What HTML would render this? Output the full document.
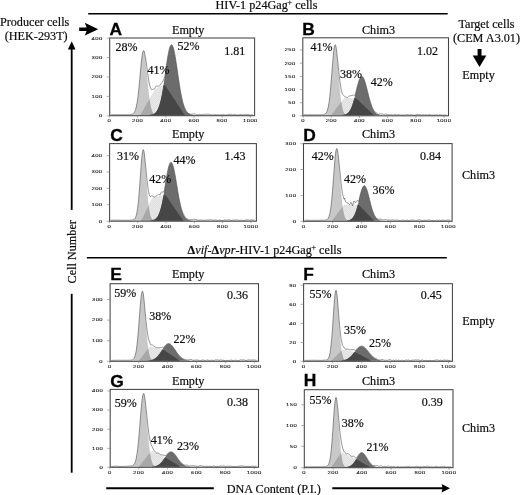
<!DOCTYPE html>
<html><head><meta charset="utf-8"><title>Cell cycle figure</title>
<style>
html,body{margin:0;padding:0;background:#fff;}
body{width:520px;height:495px;overflow:hidden;}
svg{display:block;}
text{fill:#0a0a0a;stroke:#0a0a0a;stroke-width:0.18px;}
text.t{fill:#111;stroke:#111;stroke-width:0.08px;}
text.L{fill:#000;stroke:#000;stroke-width:0.3px;}
</style></head><body>
<svg width="520" height="495" viewBox="0 0 520 495">
<rect width="520" height="495" fill="#fff"/>
<g filter="url(#soft)">
<rect width="520" height="495" fill="#fff"/>
<defs><filter id="soft" x="0" y="0" width="520" height="495" filterUnits="userSpaceOnUse" color-interpolation-filters="sRGB"><feGaussianBlur stdDeviation="0.45"/></filter><pattern id="hatch" width="2" height="2" patternUnits="userSpaceOnUse"><rect width="2" height="2" fill="#e7e7e7"/><path d="M0,2 L2,0" stroke="#dadada" stroke-width="0.5"/></pattern></defs>
<path d="M140.20,115.20 L140.20,114.74 L140.70,114.24 L141.20,113.56 L141.70,112.71 L142.20,111.82 L142.70,110.93 L143.20,110.04 L143.70,109.15 L144.20,108.25 L144.70,107.36 L145.20,106.47 L145.70,105.58 L146.20,104.69 L146.70,103.80 L147.20,102.91 L147.70,102.02 L148.20,101.13 L148.70,100.24 L149.20,99.35 L149.70,98.46 L150.20,97.57 L150.70,96.68 L151.20,95.79 L151.70,94.90 L152.20,94.01 L152.70,93.12 L153.20,92.23 L153.70,91.34 L154.20,90.52 L154.70,89.84 L155.20,89.29 L155.70,88.86 L156.20,88.57 L156.70,88.33 L157.20,88.09 L157.70,87.84 L158.20,87.60 L158.70,87.36 L159.20,87.12 L159.70,86.87 L160.20,86.63 L160.70,86.39 L161.20,86.15 L161.70,85.91 L162.20,85.66 L162.70,85.42 L163.20,85.18 L163.70,84.98 L164.20,84.97 L164.70,85.17 L165.20,85.57 L165.70,86.17 L166.20,86.93 L166.70,87.69 L167.20,88.45 L167.70,89.21 L168.20,89.97 L168.70,90.73 L169.20,91.49 L169.70,92.25 L170.20,93.01 L170.70,93.77 L171.20,94.53 L171.70,95.29 L172.20,96.05 L172.70,96.81 L173.20,97.57 L173.70,98.33 L174.20,99.09 L174.70,99.85 L175.20,100.61 L175.70,101.37 L176.20,102.13 L176.70,102.89 L177.20,103.65 L177.70,104.41 L178.20,105.17 L178.70,105.93 L179.20,106.69 L179.70,107.45 L180.20,108.21 L180.70,108.97 L181.20,109.73 L181.70,110.49 L182.20,111.25 L182.70,112.01 L183.20,112.77 L183.70,113.53 L184.20,114.17 L184.70,114.65 L185.20,114.99 L185.20,115.20 Z" fill="url(#hatch)"/>
<path d="M130.70,115.20 L130.70,114.94 L131.20,114.85 L131.70,114.73 L132.20,114.56 L132.70,114.32 L133.20,113.99 L133.70,113.53 L134.20,112.90 L134.70,112.04 L135.20,110.91 L135.70,109.43 L136.20,107.54 L136.70,105.18 L137.20,102.28 L137.70,98.83 L138.20,94.81 L138.70,90.27 L139.20,85.26 L139.70,79.93 L140.20,74.45 L140.70,69.01 L141.20,63.87 L141.70,59.28 L142.20,55.47 L142.70,52.66 L143.20,51.01 L143.70,50.63 L144.20,51.52 L144.70,53.65 L145.20,56.88 L145.70,61.04 L146.20,65.88 L146.70,71.17 L147.20,76.65 L147.70,82.10 L148.20,87.31 L148.70,92.14 L149.20,96.49 L149.70,100.28 L150.20,103.51 L150.70,106.18 L151.20,108.35 L151.70,110.07 L152.20,111.40 L152.70,112.41 L153.20,113.17 L153.70,113.73 L154.20,114.13 L154.70,114.43 L155.20,114.63 L155.70,114.78 L156.20,114.89 L156.70,114.97 L156.70,115.20 Z" fill="#c8c8c8"/>
<path d="M140.20,115.20 L140.20,114.74 L140.70,114.24 L141.20,113.56 L141.70,112.71 L142.20,111.82 L142.70,110.93 L143.20,110.04 L143.70,109.15 L144.20,108.25 L144.70,107.36 L145.20,106.47 L145.70,105.58 L146.20,104.69 L146.70,103.80 L147.20,102.91 L147.70,102.02 L148.20,101.13 L148.70,100.24 L149.20,99.35 L149.70,100.28 L150.20,103.51 L150.70,106.18 L151.20,108.35 L151.70,110.07 L152.20,111.40 L152.70,112.41 L153.20,113.17 L153.70,113.73 L154.20,114.13 L154.70,114.43 L155.20,114.63 L155.70,114.78 L156.20,114.89 L156.70,114.97 L156.70,115.20 Z" fill="#a8a8a8"/>
<path d="M149.20,115.20 L149.20,114.97 L149.70,114.93 L150.20,114.87 L150.70,114.80 L151.20,114.72 L151.70,114.62 L152.20,114.49 L152.70,114.34 L153.20,114.15 L153.70,113.92 L154.20,113.64 L154.70,113.30 L155.20,112.90 L155.70,112.41 L156.20,111.84 L156.70,111.16 L157.20,110.36 L157.70,109.43 L158.20,108.35 L158.70,107.11 L159.20,105.70 L159.70,104.10 L160.20,102.30 L160.70,100.30 L161.20,98.09 L161.70,95.67 L162.20,93.05 L162.70,90.24 L163.20,87.24 L163.70,84.08 L164.20,80.79 L164.70,77.39 L165.20,73.94 L165.70,70.46 L166.20,67.00 L166.70,63.63 L167.20,60.38 L167.70,57.31 L168.20,54.48 L168.70,51.94 L169.20,49.73 L169.70,47.90 L170.20,46.48 L170.70,45.50 L171.20,44.99 L171.70,44.94 L172.20,45.36 L172.70,46.25 L173.20,47.58 L173.70,49.34 L174.20,51.47 L174.70,53.95 L175.20,56.73 L175.70,59.75 L176.20,62.96 L176.70,66.32 L177.20,69.76 L177.70,73.24 L178.20,76.71 L178.70,80.12 L179.20,83.43 L179.70,86.62 L180.20,89.65 L180.70,92.50 L181.20,95.17 L181.70,97.62 L182.20,99.87 L182.70,101.92 L183.20,103.75 L183.70,105.39 L184.20,106.84 L184.70,108.11 L185.20,109.22 L185.70,110.18 L186.20,111.01 L186.70,111.71 L187.20,112.31 L187.70,112.81 L188.20,113.23 L188.70,113.58 L189.20,113.87 L189.70,114.11 L190.20,114.30 L190.70,114.46 L191.20,114.59 L191.70,114.70 L192.20,114.79 L192.70,114.86 L193.20,114.92 L193.70,114.96 L193.70,115.20 Z" fill="#6c6c6c"/>
<path d="M149.20,115.20 L149.20,114.97 L149.70,114.93 L150.20,114.87 L150.70,114.80 L151.20,114.72 L151.70,114.62 L152.20,114.49 L152.70,114.34 L153.20,114.15 L153.70,113.92 L154.20,113.64 L154.70,113.30 L155.20,112.90 L155.70,112.41 L156.20,111.84 L156.70,111.16 L157.20,110.36 L157.70,109.43 L158.20,108.35 L158.70,107.11 L159.20,105.70 L159.70,104.10 L160.20,102.30 L160.70,100.30 L161.20,98.09 L161.70,95.67 L162.20,93.05 L162.70,90.24 L163.20,87.24 L163.70,84.98 L164.20,84.97 L164.70,85.17 L165.20,85.57 L165.70,86.17 L166.20,86.93 L166.70,87.69 L167.20,88.45 L167.70,89.21 L168.20,89.97 L168.70,90.73 L169.20,91.49 L169.70,92.25 L170.20,93.01 L170.70,93.77 L171.20,94.53 L171.70,95.29 L172.20,96.05 L172.70,96.81 L173.20,97.57 L173.70,98.33 L174.20,99.09 L174.70,99.85 L175.20,100.61 L175.70,101.37 L176.20,102.13 L176.70,102.89 L177.20,103.65 L177.70,104.41 L178.20,105.17 L178.70,105.93 L179.20,106.69 L179.70,107.45 L180.20,108.21 L180.70,108.97 L181.20,109.73 L181.70,110.49 L182.20,111.25 L182.70,112.01 L183.20,112.77 L183.70,113.53 L184.20,114.17 L184.70,114.65 L185.20,114.99 L185.20,115.20 Z" fill="#464646"/>
<path d="M110.70,114.74 L111.20,114.74 L111.70,114.69 L112.20,114.65 L112.70,114.63 L113.20,114.67 L113.70,114.70 L114.20,114.71 L114.70,114.70 L115.20,114.69 L115.70,114.69 L116.20,114.69 L116.70,114.69 L117.20,114.71 L117.70,114.72 L118.20,114.73 L118.70,114.71 L119.20,114.68 L119.70,114.66 L120.20,114.63 L120.70,114.61 L121.20,114.65 L121.70,114.72 L122.20,114.79 L122.70,114.77 L123.20,114.72 L123.70,114.68 L124.20,114.70 L124.70,114.73 L125.20,114.74 L125.70,114.70 L126.20,114.66 L126.70,114.64 L127.20,114.63 L127.70,114.62 L128.20,114.64 L128.70,114.67 L129.20,114.70 L129.70,114.68 L130.20,114.63 L130.70,114.57 L131.20,114.46 L131.70,114.32 L132.20,114.14 L132.70,113.91 L133.20,113.60 L133.70,113.19 L134.20,112.62 L134.70,111.77 L135.20,110.64 L135.70,109.16 L136.20,107.26 L136.70,104.95 L137.20,102.11 L137.70,98.72 L138.20,94.68 L138.70,90.12 L139.20,85.10 L139.70,79.75 L140.20,74.24 L140.70,68.80 L141.20,63.68 L141.70,59.10 L142.20,55.31 L142.70,52.51 L143.20,50.87 L143.70,50.44 L144.20,51.28 L144.70,53.35 L145.20,56.32 L145.70,58.98 L146.20,62.23 L146.70,65.85 L147.20,69.64 L147.70,73.38 L148.20,76.92 L148.70,80.12 L149.20,82.90 L149.70,85.21 L150.20,87.04 L150.70,88.40 L151.20,89.34 L151.70,89.27 L152.20,89.48 L152.70,89.41 L153.20,89.20 L153.70,89.16 L154.20,89.07 L154.70,88.60 L155.20,87.54 L155.70,86.54 L156.20,86.11 L156.70,86.03 L157.20,85.91 L157.70,86.01 L158.20,86.14 L158.70,86.26 L159.20,85.93 L159.70,85.58 L160.20,85.12 L160.70,84.31 L161.20,83.46 L161.70,82.76 L162.20,82.33 L162.70,81.88 L163.20,80.84 L163.70,79.42 L164.20,78.16 L164.70,76.72 L165.20,74.44 L165.70,70.37 L166.20,66.85 L166.70,63.40 L167.20,60.11 L167.70,57.10 L168.20,54.33 L168.70,51.80 L169.20,49.54 L169.70,47.65 L170.20,46.23 L170.70,45.28 L171.20,44.79 L171.70,44.77 L172.20,45.23 L172.70,46.14 L173.20,47.40 L173.70,49.08 L174.20,51.16 L174.70,53.69 L175.20,56.52 L175.70,59.55 L176.20,62.72 L176.70,66.02 L177.20,69.48 L177.70,73.02 L178.20,76.54 L178.70,79.96 L179.20,83.29 L179.70,86.48 L180.20,89.49 L180.70,92.31 L181.20,94.96 L181.70,97.45 L182.20,99.73 L182.70,101.78 L183.20,103.58 L183.70,105.19 L184.20,106.54 L184.70,107.76 L185.20,108.83 L185.70,109.80 L186.20,110.64 L186.70,111.37 L187.20,112.19 L187.70,112.92 L188.20,113.47 L188.70,113.59 L189.20,113.64 L189.70,113.79 L190.20,114.11 L190.70,114.28 L191.20,114.33 L191.70,114.29 L192.20,114.25 L192.70,114.14 L193.20,114.02 L193.70,113.90 L194.20,113.92 L194.70,113.94 L195.20,114.01 L195.70,114.30 L196.20,114.58 L196.70,114.76 L197.20,114.79 L197.70,114.83 L198.20,114.71 L198.70,114.49 L199.20,114.27 L199.70,114.33 L200.20,114.46 L200.70,114.59 L201.20,114.51 L201.70,114.42 L202.20,114.36 L202.70,114.40 L203.20,114.43 L203.70,114.41 L204.20,114.30 L204.70,114.19 L205.20,114.18 L205.70,114.23 L206.20,114.29 L206.70,114.27 L207.20,114.23 L207.70,114.20 L208.20,114.24 L208.70,114.27 L209.20,114.32 L209.70,114.44 L210.20,114.56 L210.70,114.65 L211.20,114.71 L211.70,114.77 L212.20,114.85 L212.70,114.93 L213.20,115.00 L213.70,114.84 L214.20,114.60 L214.70,114.36 L215.20,114.48 L215.70,114.61 L216.20,114.71 L216.70,114.71 L217.20,114.71 L217.70,114.74 L218.20,114.81 L218.70,114.88 L219.20,114.90 L219.70,114.89 L220.20,114.87 L220.70,114.82 L221.20,114.76 L221.70,114.70 L222.20,114.65 L222.70,114.60 L223.20,114.58 L223.70,114.70 L224.20,114.82 L224.70,114.91 L225.20,114.97 L225.70,115.00 L226.20,114.96 L226.70,114.80 L227.20,114.64 L227.70,114.51 L228.20,114.38 L228.70,114.26 L229.20,114.39 L229.70,114.53 L230.20,114.61 L230.70,114.46 L231.20,114.31 L231.70,114.34 L232.20,114.62 L232.70,114.91 L233.20,114.89 L233.70,114.67 L234.20,114.45 L234.70,114.48 L235.20,114.57 L235.70,114.66 L236.20,114.84 L236.70,115.00 L237.20,115.00 L237.70,115.00 L238.20,115.00 L238.70,114.95 L239.20,114.75 L239.70,114.56 L240.20,114.46 L240.70,114.42 L241.20,114.39 L241.70,114.58 L242.20,114.82 L242.70,115.00 L243.20,114.87 L243.70,114.67 L244.20,114.50 L244.70,114.43 L245.20,114.36 L245.70,114.41 L246.20,114.64 L246.70,114.87 L247.20,114.83 L247.70,114.62 L248.20,114.41 L248.70,114.56 L249.20,114.80 L249.70,115.00 L250.20,115.00 L250.70,115.00 L251.20,115.00 L251.70,114.78 L252.20,114.54 L252.70,114.39" fill="none" stroke="#4a4a4a" stroke-width="0.6" stroke-linejoin="round"/>
<rect x="109.7" y="38.0" width="144.90" height="77.70" fill="none" stroke="#444" stroke-width="1.05"/>
<text transform="translate(102.70,39.50) scale(1.55,1)" font-size="3.8" text-anchor="end" font-family='"Liberation Sans", sans-serif' class="t" letter-spacing="0.3">400</text>
<path d="M106.70,38.20 H109.70" stroke="#777" stroke-width="0.6"/>
<text transform="translate(102.70,58.90) scale(1.55,1)" font-size="3.8" text-anchor="end" font-family='"Liberation Sans", sans-serif' class="t" letter-spacing="0.3">300</text>
<path d="M106.70,57.60 H109.70" stroke="#777" stroke-width="0.6"/>
<text transform="translate(102.70,78.30) scale(1.55,1)" font-size="3.8" text-anchor="end" font-family='"Liberation Sans", sans-serif' class="t" letter-spacing="0.3">200</text>
<path d="M106.70,77.00 H109.70" stroke="#777" stroke-width="0.6"/>
<text transform="translate(102.70,97.70) scale(1.55,1)" font-size="3.8" text-anchor="end" font-family='"Liberation Sans", sans-serif' class="t" letter-spacing="0.3">100</text>
<path d="M106.70,96.40 H109.70" stroke="#777" stroke-width="0.6"/>
<text transform="translate(102.70,117.10) scale(1.55,1)" font-size="3.8" text-anchor="end" font-family='"Liberation Sans", sans-serif' class="t" letter-spacing="0.3">0</text>
<path d="M106.70,115.80 H109.70" stroke="#777" stroke-width="0.6"/>
<text transform="translate(109.40,122.30) scale(1.55,1)" font-size="3.8" text-anchor="middle" font-family='"Liberation Sans", sans-serif' class="t" letter-spacing="0.3">0</text>
<path d="M109.40,115.70 v2" stroke="#777" stroke-width="0.6"/>
<text transform="translate(137.60,122.30) scale(1.55,1)" font-size="3.8" text-anchor="middle" font-family='"Liberation Sans", sans-serif' class="t" letter-spacing="0.3">200</text>
<path d="M137.60,115.70 v2" stroke="#777" stroke-width="0.6"/>
<text transform="translate(165.80,122.30) scale(1.55,1)" font-size="3.8" text-anchor="middle" font-family='"Liberation Sans", sans-serif' class="t" letter-spacing="0.3">400</text>
<path d="M165.80,115.70 v2" stroke="#777" stroke-width="0.6"/>
<text transform="translate(194.00,122.30) scale(1.55,1)" font-size="3.8" text-anchor="middle" font-family='"Liberation Sans", sans-serif' class="t" letter-spacing="0.3">600</text>
<path d="M194.00,115.70 v2" stroke="#777" stroke-width="0.6"/>
<text transform="translate(222.20,122.30) scale(1.55,1)" font-size="3.8" text-anchor="middle" font-family='"Liberation Sans", sans-serif' class="t" letter-spacing="0.3">800</text>
<path d="M222.20,115.70 v2" stroke="#777" stroke-width="0.6"/>
<text transform="translate(250.40,122.30) scale(1.55,1)" font-size="3.8" text-anchor="middle" font-family='"Liberation Sans", sans-serif' class="t" letter-spacing="0.3">1000</text>
<path d="M250.40,115.70 v2" stroke="#777" stroke-width="0.6"/>
<text transform="translate(109.40,34.50) scale(1.0,1)" font-size="17.4" font-family='"Liberation Sans", sans-serif' font-weight="bold" class="L">A</text>
<text x="188.20" y="33.50" font-size="12.2" text-anchor="middle" font-family='"Liberation Serif", serif' font-weight="normal" >Empty</text>
<text x="137.40" y="51.20" font-size="12.0" text-anchor="end" font-family='"Liberation Serif", serif' font-weight="normal" >28%</text>
<text x="147.60" y="73.50" font-size="12.0" text-anchor="start" font-family='"Liberation Serif", serif' font-weight="normal" >41%</text>
<text x="177.50" y="50.10" font-size="12.0" text-anchor="start" font-family='"Liberation Serif", serif' font-weight="normal" >52%</text>
<text x="224.20" y="54.60" font-size="12.0" text-anchor="start" font-family='"Liberation Serif", serif' font-weight="normal" >1.81</text>
<path d="M331.30,115.30 L331.30,114.81 L331.80,114.38 L332.30,113.80 L332.80,113.12 L333.30,112.45 L333.80,111.77 L334.30,111.09 L334.80,110.41 L335.30,109.73 L335.80,109.05 L336.30,108.37 L336.80,107.69 L337.30,107.01 L337.80,106.33 L338.30,105.65 L338.80,104.97 L339.30,104.29 L339.80,103.61 L340.30,102.93 L340.80,102.25 L341.30,101.57 L341.80,100.89 L342.30,100.21 L342.80,99.53 L343.30,98.94 L343.80,98.48 L344.30,98.16 L344.80,97.98 L345.30,97.94 L345.80,97.96 L346.30,97.98 L346.80,97.99 L347.30,98.01 L347.80,98.02 L348.30,98.04 L348.80,98.06 L349.30,98.07 L349.80,98.09 L350.30,98.11 L350.80,98.12 L351.30,98.14 L351.80,98.16 L352.30,98.17 L352.80,98.19 L353.30,98.20 L353.80,98.22 L354.30,98.24 L354.80,98.25 L355.30,98.29 L355.80,98.42 L356.30,98.64 L356.80,98.95 L357.30,99.35 L357.80,99.83 L358.30,100.31 L358.80,100.78 L359.30,101.26 L359.80,101.74 L360.30,102.22 L360.80,102.69 L361.30,103.17 L361.80,103.65 L362.30,104.13 L362.80,104.60 L363.30,105.08 L363.80,105.56 L364.30,106.04 L364.80,106.51 L365.30,106.99 L365.80,107.47 L366.30,107.95 L366.80,108.42 L367.30,108.90 L367.80,109.38 L368.30,109.86 L368.80,110.33 L369.30,110.81 L369.80,111.29 L370.30,111.77 L370.80,112.24 L371.30,112.72 L371.80,113.20 L372.30,113.68 L372.80,114.15 L373.30,114.57 L373.80,114.90 L373.80,115.30 Z" fill="url(#hatch)"/>
<path d="M322.80,115.30 L322.80,115.08 L323.30,115.00 L323.80,114.88 L324.30,114.72 L324.80,114.49 L325.30,114.16 L325.80,113.69 L326.30,113.03 L326.80,112.11 L327.30,110.85 L327.80,109.18 L328.30,107.00 L328.80,104.22 L329.30,100.78 L329.80,96.64 L330.30,91.79 L330.80,86.30 L331.30,80.28 L331.80,73.95 L332.30,67.54 L332.80,61.37 L333.30,55.77 L333.80,51.07 L334.30,47.58 L334.80,45.52 L335.30,45.03 L335.80,46.16 L336.30,48.81 L336.80,52.82 L337.30,57.92 L337.80,63.79 L338.30,70.09 L338.80,76.50 L339.30,82.74 L339.80,88.56 L340.30,93.81 L340.80,98.38 L341.30,102.24 L341.80,105.41 L342.30,107.94 L342.80,109.91 L343.30,111.40 L343.80,112.51 L344.30,113.32 L344.80,113.90 L345.30,114.31 L345.80,114.59 L346.30,114.79 L346.80,114.93 L347.30,115.03 L347.30,115.30 Z" fill="#c8c8c8"/>
<path d="M331.30,115.30 L331.30,114.81 L331.80,114.38 L332.30,113.80 L332.80,113.12 L333.30,112.45 L333.80,111.77 L334.30,111.09 L334.80,110.41 L335.30,109.73 L335.80,109.05 L336.30,108.37 L336.80,107.69 L337.30,107.01 L337.80,106.33 L338.30,105.65 L338.80,104.97 L339.30,104.29 L339.80,103.61 L340.30,102.93 L340.80,102.25 L341.30,102.24 L341.80,105.41 L342.30,107.94 L342.80,109.91 L343.30,111.40 L343.80,112.51 L344.30,113.32 L344.80,113.90 L345.30,114.31 L345.80,114.59 L346.30,114.79 L346.80,114.93 L347.30,115.03 L347.30,115.30 Z" fill="#a8a8a8"/>
<path d="M341.80,115.30 L341.80,115.10 L342.30,115.05 L342.80,115.00 L343.30,114.93 L343.80,114.85 L344.30,114.74 L344.80,114.61 L345.30,114.46 L345.80,114.26 L346.30,114.03 L346.80,113.75 L347.30,113.41 L347.80,113.01 L348.30,112.53 L348.80,111.97 L349.30,111.32 L349.80,110.57 L350.30,109.70 L350.80,108.73 L351.30,107.63 L351.80,106.40 L352.30,105.05 L352.80,103.57 L353.30,101.97 L353.80,100.25 L354.30,98.44 L354.80,96.54 L355.30,94.57 L355.80,92.57 L356.30,90.55 L356.80,88.54 L357.30,86.59 L357.80,84.72 L358.30,82.97 L358.80,81.37 L359.30,79.95 L359.80,78.74 L360.30,77.78 L360.80,77.07 L361.30,76.64 L361.80,76.50 L362.30,76.64 L362.80,77.07 L363.30,77.78 L363.80,78.74 L364.30,79.95 L364.80,81.37 L365.30,82.97 L365.80,84.72 L366.30,86.59 L366.80,88.54 L367.30,90.55 L367.80,92.57 L368.30,94.57 L368.80,96.54 L369.30,98.44 L369.80,100.25 L370.30,101.97 L370.80,103.57 L371.30,105.05 L371.80,106.40 L372.30,107.63 L372.80,108.73 L373.30,109.70 L373.80,110.57 L374.30,111.32 L374.80,111.97 L375.30,112.53 L375.80,113.01 L376.30,113.41 L376.80,113.75 L377.30,114.03 L377.80,114.26 L378.30,114.46 L378.80,114.61 L379.30,114.74 L379.80,114.85 L380.30,114.93 L380.80,115.00 L381.30,115.05 L381.80,115.10 L381.80,115.30 Z" fill="#6c6c6c"/>
<path d="M341.80,115.30 L341.80,115.10 L342.30,115.05 L342.80,115.00 L343.30,114.93 L343.80,114.85 L344.30,114.74 L344.80,114.61 L345.30,114.46 L345.80,114.26 L346.30,114.03 L346.80,113.75 L347.30,113.41 L347.80,113.01 L348.30,112.53 L348.80,111.97 L349.30,111.32 L349.80,110.57 L350.30,109.70 L350.80,108.73 L351.30,107.63 L351.80,106.40 L352.30,105.05 L352.80,103.57 L353.30,101.97 L353.80,100.25 L354.30,98.44 L354.80,98.25 L355.30,98.29 L355.80,98.42 L356.30,98.64 L356.80,98.95 L357.30,99.35 L357.80,99.83 L358.30,100.31 L358.80,100.78 L359.30,101.26 L359.80,101.74 L360.30,102.22 L360.80,102.69 L361.30,103.17 L361.80,103.65 L362.30,104.13 L362.80,104.60 L363.30,105.08 L363.80,105.56 L364.30,106.04 L364.80,106.51 L365.30,106.99 L365.80,107.47 L366.30,107.95 L366.80,108.42 L367.30,108.90 L367.80,109.38 L368.30,109.86 L368.80,110.33 L369.30,110.81 L369.80,111.29 L370.30,111.77 L370.80,112.24 L371.30,112.72 L371.80,113.20 L372.30,113.68 L372.80,114.15 L373.30,114.57 L373.80,114.90 L373.80,115.30 Z" fill="#464646"/>
<path d="M303.80,114.84 L304.30,114.82 L304.80,114.84 L305.30,114.85 L305.80,114.85 L306.30,114.84 L306.80,114.82 L307.30,114.82 L307.80,114.84 L308.30,114.86 L308.80,114.82 L309.30,114.77 L309.80,114.71 L310.30,114.74 L310.80,114.76 L311.30,114.78 L311.80,114.77 L312.30,114.75 L312.80,114.73 L313.30,114.72 L313.80,114.70 L314.30,114.72 L314.80,114.76 L315.30,114.79 L315.80,114.80 L316.30,114.80 L316.80,114.80 L317.30,114.83 L317.80,114.86 L318.30,114.86 L318.80,114.80 L319.30,114.74 L319.80,114.72 L320.30,114.77 L320.80,114.82 L321.30,114.81 L321.80,114.76 L322.30,114.70 L322.80,114.66 L323.30,114.60 L323.80,114.53 L324.30,114.34 L324.80,114.10 L325.30,113.78 L325.80,113.40 L326.30,112.82 L326.80,111.92 L327.30,110.66 L327.80,108.98 L328.30,106.80 L328.80,104.02 L329.30,100.58 L329.80,96.41 L330.30,91.53 L330.80,86.01 L331.30,79.99 L331.80,73.64 L332.30,67.23 L332.80,61.11 L333.30,55.57 L333.80,50.88 L334.30,47.35 L334.80,45.24 L335.30,44.75 L335.80,45.89 L336.30,48.56 L336.80,52.57 L337.30,57.67 L337.80,61.99 L338.30,66.64 L338.80,71.39 L339.30,76.00 L339.80,80.33 L340.30,84.18 L340.80,87.41 L341.30,90.00 L341.80,92.00 L342.30,93.45 L342.80,94.60 L343.30,95.13 L343.80,95.69 L344.30,96.17 L344.80,96.60 L345.30,96.89 L345.80,97.13 L346.30,97.30 L346.80,97.46 L347.30,97.57 L347.80,97.42 L348.30,96.88 L348.80,96.31 L349.30,96.02 L349.80,95.90 L350.30,95.76 L350.80,95.68 L351.30,95.61 L351.80,95.51 L352.30,95.39 L352.80,95.24 L353.30,95.13 L353.80,95.18 L354.30,95.23 L354.80,95.18 L355.30,94.69 L355.80,92.79 L356.30,90.39 L356.80,88.38 L357.30,86.41 L357.80,84.57 L358.30,82.85 L358.80,81.28 L359.30,79.86 L359.80,78.64 L360.30,77.66 L360.80,76.93 L361.30,76.47 L361.80,76.31 L362.30,76.46 L362.80,76.89 L363.30,77.59 L363.80,78.53 L364.30,79.72 L364.80,81.13 L365.30,82.74 L365.80,84.50 L366.30,86.41 L366.80,88.41 L367.30,90.43 L367.80,92.38 L368.30,94.33 L368.80,96.27 L369.30,98.20 L369.80,100.06 L370.30,101.78 L370.80,103.38 L371.30,104.85 L371.80,106.21 L372.30,107.45 L372.80,108.56 L373.30,109.54 L373.80,110.50 L374.30,111.21 L374.80,111.67 L375.30,112.03 L375.80,112.38 L376.30,112.77 L376.80,113.09 L377.30,113.53 L377.80,113.99 L378.30,114.30 L378.80,114.18 L379.30,113.95 L379.80,113.72 L380.30,113.79 L380.80,113.85 L381.30,113.91 L381.80,113.93 L382.30,113.96 L382.80,114.06 L383.30,114.27 L383.80,114.49 L384.30,114.46 L384.80,114.26 L385.30,114.06 L385.80,114.13 L386.30,114.26 L386.80,114.40 L387.30,114.46 L387.80,114.52 L388.30,114.61 L388.80,114.77 L389.30,114.94 L389.80,114.98 L390.30,114.83 L390.80,114.67 L391.30,114.69 L391.80,114.82 L392.30,114.96 L392.80,114.97 L393.30,114.94 L393.80,114.91 L394.30,114.72 L394.80,114.52 L395.30,114.41 L395.80,114.60 L396.30,114.80 L396.80,114.86 L397.30,114.70 L397.80,114.54 L398.30,114.58 L398.80,114.74 L399.30,114.90 L399.80,115.01 L400.30,115.10 L400.80,115.10 L401.30,115.08 L401.80,114.98 L402.30,114.92 L402.80,115.00 L403.30,115.08 L403.80,115.10 L404.30,115.10 L404.80,115.10 L405.30,115.03 L405.80,114.85 L406.30,114.66 L406.80,114.62 L407.30,114.61 L407.80,114.60 L408.30,114.79 L408.80,114.97 L409.30,115.08 L409.80,114.88 L410.30,114.69 L410.80,114.60 L411.30,114.67 L411.80,114.74 L412.30,114.86 L412.80,115.01 L413.30,115.10 L413.80,115.10 L414.30,115.10 L414.80,115.10 L415.30,114.99 L415.80,114.77 L416.30,114.58 L416.80,114.51 L417.30,114.43 L417.80,114.40 L418.30,114.43 L418.80,114.46 L419.30,114.52 L419.80,114.60 L420.30,114.68 L420.80,114.85 L421.30,115.04 L421.80,115.10 L422.30,114.99 L422.80,114.75 L423.30,114.61 L423.80,114.85 L424.30,115.09 L424.80,115.10 L425.30,114.88 L425.80,114.62 L426.30,114.67 L426.80,114.92 L427.30,115.10 L427.80,114.96 L428.30,114.64 L428.80,114.33 L429.30,114.50 L429.80,114.68 L430.30,114.84 L430.80,114.93 L431.30,115.03 L431.80,115.10 L432.30,115.10 L432.80,115.10 L433.30,115.10 L433.80,115.10 L434.30,115.05 L434.80,114.91 L435.30,114.75 L435.80,114.60 L436.30,114.75 L436.80,114.91 L437.30,115.04 L437.80,115.10 L438.30,115.10 L438.80,115.10 L439.30,114.88 L439.80,114.64 L440.30,114.67 L440.80,114.88 L441.30,115.09 L441.80,115.10 L442.30,115.10 L442.80,115.10 L443.30,115.10 L443.80,115.10 L444.30,115.09 L444.80,115.10 L445.30,115.10 L445.80,115.10 L446.30,115.10 L446.80,115.07" fill="none" stroke="#4a4a4a" stroke-width="0.6" stroke-linejoin="round"/>
<rect x="302.8" y="37.8" width="145.70" height="78.00" fill="none" stroke="#444" stroke-width="1.05"/>
<text transform="translate(295.80,51.30) scale(1.55,1)" font-size="3.8" text-anchor="end" font-family='"Liberation Sans", sans-serif' class="t" letter-spacing="0.3">250</text>
<path d="M299.80,50.00 H302.80" stroke="#777" stroke-width="0.6"/>
<text transform="translate(295.80,64.50) scale(1.55,1)" font-size="3.8" text-anchor="end" font-family='"Liberation Sans", sans-serif' class="t" letter-spacing="0.3">200</text>
<path d="M299.80,63.20 H302.80" stroke="#777" stroke-width="0.6"/>
<text transform="translate(295.80,77.70) scale(1.55,1)" font-size="3.8" text-anchor="end" font-family='"Liberation Sans", sans-serif' class="t" letter-spacing="0.3">150</text>
<path d="M299.80,76.40 H302.80" stroke="#777" stroke-width="0.6"/>
<text transform="translate(295.80,90.90) scale(1.55,1)" font-size="3.8" text-anchor="end" font-family='"Liberation Sans", sans-serif' class="t" letter-spacing="0.3">100</text>
<path d="M299.80,89.60 H302.80" stroke="#777" stroke-width="0.6"/>
<text transform="translate(295.80,104.10) scale(1.55,1)" font-size="3.8" text-anchor="end" font-family='"Liberation Sans", sans-serif' class="t" letter-spacing="0.3">50</text>
<path d="M299.80,102.80 H302.80" stroke="#777" stroke-width="0.6"/>
<text transform="translate(295.80,117.10) scale(1.55,1)" font-size="3.8" text-anchor="end" font-family='"Liberation Sans", sans-serif' class="t" letter-spacing="0.3">0</text>
<path d="M299.80,115.80 H302.80" stroke="#777" stroke-width="0.6"/>
<text transform="translate(303.10,122.40) scale(1.55,1)" font-size="3.8" text-anchor="middle" font-family='"Liberation Sans", sans-serif' class="t" letter-spacing="0.3">0</text>
<path d="M303.10,115.80 v2" stroke="#777" stroke-width="0.6"/>
<text transform="translate(331.30,122.40) scale(1.55,1)" font-size="3.8" text-anchor="middle" font-family='"Liberation Sans", sans-serif' class="t" letter-spacing="0.3">200</text>
<path d="M331.30,115.80 v2" stroke="#777" stroke-width="0.6"/>
<text transform="translate(359.50,122.40) scale(1.55,1)" font-size="3.8" text-anchor="middle" font-family='"Liberation Sans", sans-serif' class="t" letter-spacing="0.3">400</text>
<path d="M359.50,115.80 v2" stroke="#777" stroke-width="0.6"/>
<text transform="translate(387.70,122.40) scale(1.55,1)" font-size="3.8" text-anchor="middle" font-family='"Liberation Sans", sans-serif' class="t" letter-spacing="0.3">600</text>
<path d="M387.70,115.80 v2" stroke="#777" stroke-width="0.6"/>
<text transform="translate(415.90,122.40) scale(1.55,1)" font-size="3.8" text-anchor="middle" font-family='"Liberation Sans", sans-serif' class="t" letter-spacing="0.3">800</text>
<path d="M415.90,115.80 v2" stroke="#777" stroke-width="0.6"/>
<text transform="translate(444.10,122.40) scale(1.55,1)" font-size="3.8" text-anchor="middle" font-family='"Liberation Sans", sans-serif' class="t" letter-spacing="0.3">1000</text>
<path d="M444.10,115.80 v2" stroke="#777" stroke-width="0.6"/>
<text transform="translate(302.20,34.50) scale(1.0,1)" font-size="17.4" font-family='"Liberation Sans", sans-serif' font-weight="bold" class="L">B</text>
<text x="378.50" y="33.50" font-size="12.2" text-anchor="middle" font-family='"Liberation Serif", serif' font-weight="normal" >Chim3</text>
<text x="332.60" y="51.00" font-size="12.0" text-anchor="end" font-family='"Liberation Serif", serif' font-weight="normal" >41%</text>
<text x="340.00" y="78.40" font-size="12.0" text-anchor="start" font-family='"Liberation Serif", serif' font-weight="normal" >38%</text>
<text x="370.70" y="85.70" font-size="12.0" text-anchor="start" font-family='"Liberation Serif", serif' font-weight="normal" >42%</text>
<text x="417.00" y="55.00" font-size="12.0" text-anchor="start" font-family='"Liberation Serif", serif' font-weight="normal" >1.02</text>
<path d="M141.10,220.70 L141.10,220.16 L141.60,219.58 L142.10,218.79 L142.60,217.80 L143.10,216.77 L143.60,215.73 L144.10,214.69 L144.60,213.66 L145.10,212.62 L145.60,211.59 L146.10,210.55 L146.60,209.52 L147.10,208.48 L147.60,207.45 L148.10,206.41 L148.60,205.38 L149.10,204.34 L149.60,203.31 L150.10,202.27 L150.60,201.23 L151.10,200.20 L151.60,199.20 L152.10,198.39 L152.60,197.77 L153.10,197.34 L153.60,197.10 L154.10,197.00 L154.60,196.91 L155.10,196.82 L155.60,196.72 L156.10,196.63 L156.60,196.54 L157.10,196.44 L157.60,196.35 L158.10,196.26 L158.60,196.17 L159.10,196.07 L159.60,195.98 L160.10,195.89 L160.60,195.79 L161.10,195.70 L161.60,195.61 L162.10,195.51 L162.60,195.42 L163.10,195.33 L163.60,195.23 L164.10,195.14 L164.60,195.11 L165.10,195.25 L165.60,195.55 L166.10,196.01 L166.60,196.64 L167.10,197.36 L167.60,198.09 L168.10,198.81 L168.60,199.54 L169.10,200.26 L169.60,200.99 L170.10,201.71 L170.60,202.44 L171.10,203.16 L171.60,203.89 L172.10,204.61 L172.60,205.34 L173.10,206.06 L173.60,206.79 L174.10,207.51 L174.60,208.23 L175.10,208.96 L175.60,209.68 L176.10,210.41 L176.60,211.13 L177.10,211.86 L177.60,212.58 L178.10,213.31 L178.60,214.03 L179.10,214.76 L179.60,215.48 L180.10,216.21 L180.60,216.93 L181.10,217.66 L181.60,218.38 L182.10,219.11 L182.60,219.71 L183.10,220.18 L183.60,220.50 L183.60,220.70 Z" fill="url(#hatch)"/>
<path d="M132.10,220.70 L132.10,220.46 L132.60,220.36 L133.10,220.22 L133.60,220.00 L134.10,219.69 L134.60,219.23 L135.10,218.55 L135.60,217.57 L136.10,216.20 L136.60,214.32 L137.10,211.81 L137.60,208.55 L138.10,204.47 L138.60,199.54 L139.10,193.77 L139.60,187.30 L140.10,180.35 L140.60,173.25 L141.10,166.38 L141.60,160.20 L142.10,155.15 L142.60,151.60 L143.10,149.86 L143.60,150.05 L144.10,152.18 L144.60,156.05 L145.10,161.36 L145.60,167.72 L146.10,174.66 L146.60,181.77 L147.10,188.64 L147.60,194.98 L148.10,200.59 L148.60,205.36 L149.10,209.27 L149.60,212.36 L150.10,214.74 L150.60,216.51 L151.10,217.80 L151.60,218.70 L152.10,219.33 L152.60,219.76 L153.10,220.05 L153.60,220.25 L154.10,220.38 L154.60,220.47 L154.60,220.70 Z" fill="#c8c8c8"/>
<path d="M141.10,220.70 L141.10,220.16 L141.60,219.58 L142.10,218.79 L142.60,217.80 L143.10,216.77 L143.60,215.73 L144.10,214.69 L144.60,213.66 L145.10,212.62 L145.60,211.59 L146.10,210.55 L146.60,209.52 L147.10,208.48 L147.60,207.45 L148.10,206.41 L148.60,205.38 L149.10,209.27 L149.60,212.36 L150.10,214.74 L150.60,216.51 L151.10,217.80 L151.60,218.70 L152.10,219.33 L152.60,219.76 L153.10,220.05 L153.60,220.25 L154.10,220.38 L154.60,220.47 L154.60,220.70 Z" fill="#a8a8a8"/>
<path d="M150.10,220.70 L150.10,220.49 L150.60,220.44 L151.10,220.39 L151.60,220.32 L152.10,220.23 L152.60,220.12 L153.10,219.99 L153.60,219.83 L154.10,219.63 L154.60,219.38 L155.10,219.08 L155.60,218.72 L156.10,218.28 L156.60,217.75 L157.10,217.13 L157.60,216.39 L158.10,215.52 L158.60,214.51 L159.10,213.35 L159.60,212.03 L160.10,210.53 L160.60,208.84 L161.10,206.96 L161.60,204.89 L162.10,202.64 L162.60,200.20 L163.10,197.59 L163.60,194.84 L164.10,191.97 L164.60,189.01 L165.10,185.99 L165.60,182.96 L166.10,179.97 L166.60,177.06 L167.10,174.29 L167.60,171.70 L168.10,169.35 L168.60,167.28 L169.10,165.55 L169.60,164.17 L170.10,163.20 L170.60,162.64 L171.10,162.51 L171.60,162.81 L172.10,163.54 L172.60,164.68 L173.10,166.20 L173.60,168.07 L174.10,170.26 L174.60,172.71 L175.10,175.38 L175.60,178.21 L176.10,181.16 L176.60,184.17 L177.10,187.20 L177.60,190.20 L178.10,193.13 L178.60,195.96 L179.10,198.66 L179.60,201.19 L180.10,203.56 L180.60,205.74 L181.10,207.73 L181.60,209.54 L182.10,211.15 L182.60,212.58 L183.10,213.84 L183.60,214.94 L184.10,215.88 L184.60,216.70 L185.10,217.39 L185.60,217.97 L186.10,218.46 L186.60,218.87 L187.10,219.21 L187.60,219.49 L188.10,219.71 L188.60,219.90 L189.10,220.05 L189.60,220.17 L190.10,220.27 L190.60,220.35 L191.10,220.41 L191.60,220.46 L191.60,220.70 Z" fill="#6c6c6c"/>
<path d="M150.10,220.70 L150.10,220.49 L150.60,220.44 L151.10,220.39 L151.60,220.32 L152.10,220.23 L152.60,220.12 L153.10,219.99 L153.60,219.83 L154.10,219.63 L154.60,219.38 L155.10,219.08 L155.60,218.72 L156.10,218.28 L156.60,217.75 L157.10,217.13 L157.60,216.39 L158.10,215.52 L158.60,214.51 L159.10,213.35 L159.60,212.03 L160.10,210.53 L160.60,208.84 L161.10,206.96 L161.60,204.89 L162.10,202.64 L162.60,200.20 L163.10,197.59 L163.60,195.23 L164.10,195.14 L164.60,195.11 L165.10,195.25 L165.60,195.55 L166.10,196.01 L166.60,196.64 L167.10,197.36 L167.60,198.09 L168.10,198.81 L168.60,199.54 L169.10,200.26 L169.60,200.99 L170.10,201.71 L170.60,202.44 L171.10,203.16 L171.60,203.89 L172.10,204.61 L172.60,205.34 L173.10,206.06 L173.60,206.79 L174.10,207.51 L174.60,208.23 L175.10,208.96 L175.60,209.68 L176.10,210.41 L176.60,211.13 L177.10,211.86 L177.60,212.58 L178.10,213.31 L178.60,214.03 L179.10,214.76 L179.60,215.48 L180.10,216.21 L180.60,216.93 L181.10,217.66 L181.60,218.38 L182.10,219.11 L182.60,219.71 L183.10,220.18 L183.60,220.50 L183.60,220.70 Z" fill="#464646"/>
<path d="M110.60,220.18 L111.10,220.13 L111.60,220.11 L112.10,220.10 L112.60,220.11 L113.10,220.15 L113.60,220.20 L114.10,220.19 L114.60,220.15 L115.10,220.10 L115.60,220.13 L116.10,220.17 L116.60,220.22 L117.10,220.20 L117.60,220.18 L118.10,220.17 L118.60,220.14 L119.10,220.11 L119.60,220.12 L120.10,220.19 L120.60,220.25 L121.10,220.28 L121.60,220.29 L122.10,220.31 L122.60,220.30 L123.10,220.29 L123.60,220.28 L124.10,220.29 L124.60,220.30 L125.10,220.30 L125.60,220.27 L126.10,220.23 L126.60,220.22 L127.10,220.24 L127.60,220.27 L128.10,220.28 L128.60,220.27 L129.10,220.27 L129.60,220.24 L130.10,220.21 L130.60,220.17 L131.10,220.13 L131.60,220.08 L132.10,220.01 L132.60,219.88 L133.10,219.72 L133.60,219.55 L134.10,219.35 L134.60,219.03 L135.10,218.43 L135.60,217.40 L136.10,215.98 L136.60,214.06 L137.10,211.53 L137.60,208.26 L138.10,204.19 L138.60,199.27 L139.10,193.52 L139.60,187.10 L140.10,180.21 L140.60,173.13 L141.10,166.27 L141.60,160.09 L142.10,155.02 L142.60,151.46 L143.10,149.69 L143.60,149.91 L144.10,152.06 L144.60,155.97 L145.10,161.20 L145.60,166.00 L146.10,170.81 L146.60,175.82 L147.10,180.65 L147.60,185.01 L148.10,188.74 L148.60,191.75 L149.10,194.04 L149.60,195.64 L150.10,196.63 L150.60,196.53 L151.10,196.28 L151.60,195.74 L152.10,195.98 L152.60,196.24 L153.10,196.53 L153.60,196.75 L154.10,197.05 L154.60,197.08 L155.10,196.70 L155.60,196.31 L156.10,196.02 L156.60,195.79 L157.10,195.55 L157.60,195.06 L158.10,194.50 L158.60,193.90 L159.10,194.40 L159.60,194.89 L160.10,195.05 L160.60,193.87 L161.10,192.65 L161.60,191.93 L162.10,192.01 L162.60,192.07 L163.10,192.01 L163.60,191.85 L164.10,191.69 L164.60,189.78 L165.10,186.14 L165.60,182.74 L166.10,179.72 L166.60,176.79 L167.10,174.00 L167.60,171.44 L168.10,169.11 L168.60,167.05 L169.10,165.31 L169.60,163.92 L170.10,162.96 L170.60,162.42 L171.10,162.32 L171.60,162.63 L172.10,163.36 L172.60,164.50 L173.10,166.06 L173.60,167.96 L174.10,170.16 L174.60,172.54 L175.10,175.13 L175.60,177.93 L176.10,180.91 L176.60,183.95 L177.10,187.01 L177.60,190.05 L178.10,193.01 L178.60,195.84 L179.10,198.53 L179.60,201.07 L180.10,203.40 L180.60,205.56 L181.10,207.52 L181.60,209.31 L182.10,210.91 L182.60,212.32 L183.10,213.32 L183.60,214.32 L184.10,215.34 L184.60,216.35 L185.10,217.22 L185.60,217.81 L186.10,218.26 L186.60,218.62 L187.10,218.91 L187.60,219.13 L188.10,219.33 L188.60,219.59 L189.10,219.84 L189.60,219.88 L190.10,219.59 L190.60,219.30 L191.10,219.32 L191.60,219.55 L192.10,219.78 L192.60,219.68 L193.10,219.49 L193.60,219.29 L194.10,219.35 L194.60,219.42 L195.10,219.47 L195.60,219.50 L196.10,219.54 L196.60,219.66 L197.10,219.93 L197.60,220.20 L198.10,220.25 L198.60,220.15 L199.10,220.06 L199.60,220.04 L200.10,220.04 L200.60,220.05 L201.10,220.12 L201.60,220.20 L202.10,220.25 L202.60,220.20 L203.10,220.16 L203.60,220.16 L204.10,220.23 L204.60,220.31 L205.10,220.28 L205.60,220.19 L206.10,220.10 L206.60,220.06 L207.10,220.02 L207.60,219.98 L208.10,220.00 L208.60,220.01 L209.10,220.01 L209.60,219.97 L210.10,219.92 L210.60,219.90 L211.10,219.90 L211.60,219.90 L212.10,220.00 L212.60,220.15 L213.10,220.31 L213.60,220.26 L214.10,220.15 L214.60,220.05 L215.10,220.01 L215.60,219.96 L216.10,219.98 L216.60,220.23 L217.10,220.48 L217.60,220.50 L218.10,220.33 L218.60,220.11 L219.10,220.07 L219.60,220.15 L220.10,220.22 L220.60,220.33 L221.10,220.45 L221.60,220.50 L222.10,220.50 L222.60,220.45 L223.10,220.37 L223.60,220.20 L224.10,220.03 L224.60,219.95 L225.10,219.98 L225.60,220.02 L226.10,220.06 L226.60,220.11 L227.10,220.15 L227.60,220.06 L228.10,219.93 L228.60,219.80 L229.10,219.91 L229.60,220.01 L230.10,220.14 L230.60,220.35 L231.10,220.50 L231.60,220.50 L232.10,220.37 L232.60,220.15 L233.10,220.08 L233.60,220.13 L234.10,220.18 L234.60,220.11 L235.10,220.01 L235.60,219.91 L236.10,219.97 L236.60,220.03 L237.10,220.07 L237.60,220.02 L238.10,219.97 L238.60,220.04 L239.10,220.29 L239.60,220.50 L240.10,220.50 L240.60,220.28 L241.10,220.06 L241.60,220.14 L242.10,220.31 L242.60,220.48 L243.10,220.50 L243.60,220.50 L244.10,220.50 L244.60,220.29 L245.10,220.07 L245.60,219.93 L246.10,219.91 L246.60,219.89 L247.10,219.85 L247.60,219.80 L248.10,219.75 L248.60,219.92 L249.10,220.14 L249.60,220.35 L250.10,220.14 L250.60,219.92 L251.10,219.77 L251.60,219.87 L252.10,219.98 L252.60,220.03 L253.10,220.03 L253.60,220.02 L254.10,219.98 L254.60,219.94" fill="none" stroke="#4a4a4a" stroke-width="0.6" stroke-linejoin="round"/>
<rect x="109.6" y="143.6" width="146.80" height="77.60" fill="none" stroke="#444" stroke-width="1.05"/>
<text transform="translate(102.60,156.90) scale(1.55,1)" font-size="3.8" text-anchor="end" font-family='"Liberation Sans", sans-serif' class="t" letter-spacing="0.3">400</text>
<path d="M106.60,155.60 H109.60" stroke="#777" stroke-width="0.6"/>
<text transform="translate(102.60,173.30) scale(1.55,1)" font-size="3.8" text-anchor="end" font-family='"Liberation Sans", sans-serif' class="t" letter-spacing="0.3">300</text>
<path d="M106.60,172.00 H109.60" stroke="#777" stroke-width="0.6"/>
<text transform="translate(102.60,189.70) scale(1.55,1)" font-size="3.8" text-anchor="end" font-family='"Liberation Sans", sans-serif' class="t" letter-spacing="0.3">200</text>
<path d="M106.60,188.40 H109.60" stroke="#777" stroke-width="0.6"/>
<text transform="translate(102.60,206.10) scale(1.55,1)" font-size="3.8" text-anchor="end" font-family='"Liberation Sans", sans-serif' class="t" letter-spacing="0.3">100</text>
<path d="M106.60,204.80 H109.60" stroke="#777" stroke-width="0.6"/>
<text transform="translate(102.60,222.50) scale(1.55,1)" font-size="3.8" text-anchor="end" font-family='"Liberation Sans", sans-serif' class="t" letter-spacing="0.3">0</text>
<path d="M106.60,221.20 H109.60" stroke="#777" stroke-width="0.6"/>
<text transform="translate(109.30,227.80) scale(1.55,1)" font-size="3.8" text-anchor="middle" font-family='"Liberation Sans", sans-serif' class="t" letter-spacing="0.3">0</text>
<path d="M109.30,221.20 v2" stroke="#777" stroke-width="0.6"/>
<text transform="translate(137.65,227.80) scale(1.55,1)" font-size="3.8" text-anchor="middle" font-family='"Liberation Sans", sans-serif' class="t" letter-spacing="0.3">200</text>
<path d="M137.65,221.20 v2" stroke="#777" stroke-width="0.6"/>
<text transform="translate(166.00,227.80) scale(1.55,1)" font-size="3.8" text-anchor="middle" font-family='"Liberation Sans", sans-serif' class="t" letter-spacing="0.3">400</text>
<path d="M166.00,221.20 v2" stroke="#777" stroke-width="0.6"/>
<text transform="translate(194.35,227.80) scale(1.55,1)" font-size="3.8" text-anchor="middle" font-family='"Liberation Sans", sans-serif' class="t" letter-spacing="0.3">600</text>
<path d="M194.35,221.20 v2" stroke="#777" stroke-width="0.6"/>
<text transform="translate(222.70,227.80) scale(1.55,1)" font-size="3.8" text-anchor="middle" font-family='"Liberation Sans", sans-serif' class="t" letter-spacing="0.3">800</text>
<path d="M222.70,221.20 v2" stroke="#777" stroke-width="0.6"/>
<text transform="translate(251.05,227.80) scale(1.55,1)" font-size="3.8" text-anchor="middle" font-family='"Liberation Sans", sans-serif' class="t" letter-spacing="0.3">1000</text>
<path d="M251.05,221.20 v2" stroke="#777" stroke-width="0.6"/>
<text transform="translate(110.20,140.50) scale(1.0,1)" font-size="17.4" font-family='"Liberation Sans", sans-serif' font-weight="bold" class="L">C</text>
<text x="188.20" y="137.70" font-size="12.2" text-anchor="middle" font-family='"Liberation Serif", serif' font-weight="normal" >Empty</text>
<text x="138.90" y="160.00" font-size="12.0" text-anchor="end" font-family='"Liberation Serif", serif' font-weight="normal" >31%</text>
<text x="149.20" y="183.00" font-size="12.0" text-anchor="start" font-family='"Liberation Serif", serif' font-weight="normal" >42%</text>
<text x="173.50" y="164.00" font-size="12.0" text-anchor="start" font-family='"Liberation Serif", serif' font-weight="normal" >44%</text>
<text x="224.60" y="160.00" font-size="12.0" text-anchor="start" font-family='"Liberation Serif", serif' font-weight="normal" >1.43</text>
<path d="M332.00,220.80 L332.00,220.40 L332.50,220.00 L333.00,219.46 L333.50,218.79 L334.00,218.12 L334.50,217.45 L335.00,216.78 L335.50,216.11 L336.00,215.44 L336.50,214.78 L337.00,214.11 L337.50,213.44 L338.00,212.77 L338.50,212.10 L339.00,211.43 L339.50,210.76 L340.00,210.09 L340.50,209.42 L341.00,208.75 L341.50,208.08 L342.00,207.41 L342.50,206.74 L343.00,206.07 L343.50,205.51 L344.00,205.08 L344.50,204.79 L345.00,204.63 L345.50,204.60 L346.00,204.60 L346.50,204.60 L347.00,204.60 L347.50,204.60 L348.00,204.60 L348.50,204.60 L349.00,204.60 L349.50,204.60 L350.00,204.60 L350.50,204.60 L351.00,204.60 L351.50,204.60 L352.00,204.60 L352.50,204.60 L353.00,204.60 L353.50,204.60 L354.00,204.60 L354.50,204.60 L355.00,204.60 L355.50,204.60 L356.00,204.60 L356.50,204.60 L357.00,204.60 L357.50,204.60 L358.00,204.68 L358.50,204.87 L359.00,205.17 L359.50,205.57 L360.00,206.07 L360.50,206.60 L361.00,207.12 L361.50,207.65 L362.00,208.18 L362.50,208.70 L363.00,209.23 L363.50,209.75 L364.00,210.28 L364.50,210.81 L365.00,211.33 L365.50,211.86 L366.00,212.38 L366.50,212.91 L367.00,213.44 L367.50,213.96 L368.00,214.49 L368.50,215.01 L369.00,215.54 L369.50,216.07 L370.00,216.59 L370.50,217.12 L371.00,217.64 L371.50,218.17 L372.00,218.70 L372.50,219.22 L373.00,219.75 L373.50,220.17 L374.00,220.48 L374.00,220.80 Z" fill="url(#hatch)"/>
<path d="M325.00,220.80 L325.00,220.53 L325.50,220.43 L326.00,220.29 L326.50,220.08 L327.00,219.78 L327.50,219.34 L328.00,218.72 L328.50,217.84 L329.00,216.62 L329.50,214.98 L330.00,212.80 L330.50,209.99 L331.00,206.47 L331.50,202.19 L332.00,197.13 L332.50,191.37 L333.00,185.03 L333.50,178.33 L334.00,171.55 L334.50,165.04 L335.00,159.18 L335.50,154.33 L336.00,150.83 L336.50,148.92 L337.00,148.74 L337.50,150.31 L338.00,153.51 L338.50,158.11 L339.00,163.80 L339.50,170.21 L340.00,176.97 L340.50,183.71 L341.00,190.14 L341.50,196.03 L342.00,201.24 L342.50,205.68 L343.00,209.35 L343.50,212.29 L344.00,214.59 L344.50,216.33 L345.00,217.63 L345.50,218.57 L346.00,219.23 L346.50,219.70 L347.00,220.03 L347.50,220.25 L348.00,220.41 L348.50,220.52 L349.00,220.59 L349.00,220.80 Z" fill="#c8c8c8"/>
<path d="M332.00,220.80 L332.00,220.40 L332.50,220.00 L333.00,219.46 L333.50,218.79 L334.00,218.12 L334.50,217.45 L335.00,216.78 L335.50,216.11 L336.00,215.44 L336.50,214.78 L337.00,214.11 L337.50,213.44 L338.00,212.77 L338.50,212.10 L339.00,211.43 L339.50,210.76 L340.00,210.09 L340.50,209.42 L341.00,208.75 L341.50,208.08 L342.00,207.41 L342.50,206.74 L343.00,209.35 L343.50,212.29 L344.00,214.59 L344.50,216.33 L345.00,217.63 L345.50,218.57 L346.00,219.23 L346.50,219.70 L347.00,220.03 L347.50,220.25 L348.00,220.41 L348.50,220.52 L349.00,220.59 L349.00,220.80 Z" fill="#a8a8a8"/>
<path d="M347.00,220.80 L347.00,220.56 L347.50,220.50 L348.00,220.42 L348.50,220.32 L349.00,220.20 L349.50,220.04 L350.00,219.85 L350.50,219.60 L351.00,219.31 L351.50,218.94 L352.00,218.50 L352.50,217.97 L353.00,217.34 L353.50,216.60 L354.00,215.73 L354.50,214.74 L355.00,213.61 L355.50,212.34 L356.00,210.92 L356.50,209.36 L357.00,207.68 L357.50,205.87 L358.00,203.97 L358.50,201.99 L359.00,199.97 L359.50,197.94 L360.00,195.94 L360.50,194.01 L361.00,192.19 L361.50,190.53 L362.00,189.07 L362.50,187.84 L363.00,186.88 L363.50,186.21 L364.00,185.86 L364.50,185.83 L365.00,186.12 L365.50,186.72 L366.00,187.63 L366.50,188.80 L367.00,190.22 L367.50,191.84 L368.00,193.63 L368.50,195.54 L369.00,197.54 L369.50,199.56 L370.00,201.59 L370.50,203.58 L371.00,205.50 L371.50,207.32 L372.00,209.04 L372.50,210.62 L373.00,212.06 L373.50,213.37 L374.00,214.53 L374.50,215.55 L375.00,216.43 L375.50,217.20 L376.00,217.85 L376.50,218.40 L377.00,218.86 L377.50,219.24 L378.00,219.55 L378.50,219.80 L379.00,220.01 L379.50,220.17 L380.00,220.30 L380.50,220.40 L381.00,220.48 L381.50,220.55 L382.00,220.60 L382.00,220.80 Z" fill="#6c6c6c"/>
<path d="M347.00,220.80 L347.00,220.56 L347.50,220.50 L348.00,220.42 L348.50,220.32 L349.00,220.20 L349.50,220.04 L350.00,219.85 L350.50,219.60 L351.00,219.31 L351.50,218.94 L352.00,218.50 L352.50,217.97 L353.00,217.34 L353.50,216.60 L354.00,215.73 L354.50,214.74 L355.00,213.61 L355.50,212.34 L356.00,210.92 L356.50,209.36 L357.00,207.68 L357.50,205.87 L358.00,204.68 L358.50,204.87 L359.00,205.17 L359.50,205.57 L360.00,206.07 L360.50,206.60 L361.00,207.12 L361.50,207.65 L362.00,208.18 L362.50,208.70 L363.00,209.23 L363.50,209.75 L364.00,210.28 L364.50,210.81 L365.00,211.33 L365.50,211.86 L366.00,212.38 L366.50,212.91 L367.00,213.44 L367.50,213.96 L368.00,214.49 L368.50,215.01 L369.00,215.54 L369.50,216.07 L370.00,216.59 L370.50,217.12 L371.00,217.64 L371.50,218.17 L372.00,218.70 L372.50,219.22 L373.00,219.75 L373.50,220.17 L374.00,220.48 L374.00,220.80 Z" fill="#464646"/>
<path d="M304.50,220.21 L305.00,220.20 L305.50,220.21 L306.00,220.23 L306.50,220.24 L307.00,220.22 L307.50,220.21 L308.00,220.24 L308.50,220.31 L309.00,220.38 L309.50,220.36 L310.00,220.32 L310.50,220.28 L311.00,220.29 L311.50,220.31 L312.00,220.32 L312.50,220.33 L313.00,220.35 L313.50,220.34 L314.00,220.28 L314.50,220.23 L315.00,220.24 L315.50,220.29 L316.00,220.33 L316.50,220.30 L317.00,220.24 L317.50,220.18 L318.00,220.24 L318.50,220.29 L319.00,220.32 L319.50,220.31 L320.00,220.29 L320.50,220.26 L321.00,220.24 L321.50,220.21 L322.00,220.20 L322.50,220.18 L323.00,220.16 L323.50,220.19 L324.00,220.22 L324.50,220.24 L325.00,220.12 L325.50,219.98 L326.00,219.82 L326.50,219.70 L327.00,219.49 L327.50,219.15 L328.00,218.58 L328.50,217.69 L329.00,216.47 L329.50,214.85 L330.00,212.69 L330.50,209.85 L331.00,206.29 L331.50,201.96 L332.00,196.94 L332.50,191.21 L333.00,184.90 L333.50,178.20 L334.00,171.42 L334.50,164.90 L335.00,159.01 L335.50,154.13 L336.00,150.62 L336.50,148.72 L337.00,148.56 L337.50,150.12 L338.00,153.31 L338.50,157.91 L339.00,162.47 L339.50,167.25 L340.00,172.32 L340.50,177.37 L341.00,182.15 L341.50,186.47 L342.00,190.21 L342.50,193.29 L343.00,195.73 L343.50,197.66 L344.00,199.18 L344.50,198.09 L345.00,199.97 L345.50,201.63 L346.00,202.12 L346.50,202.45 L347.00,202.68 L347.50,202.93 L348.00,203.13 L348.50,203.45 L349.00,204.01 L349.50,204.55 L350.00,204.21 L350.50,203.29 L351.00,202.35 L351.50,203.23 L352.00,204.55 L352.50,205.86 L353.00,204.07 L353.50,202.24 L354.00,200.92 L354.50,201.74 L355.00,202.56 L355.50,202.73 L356.00,201.92 L356.50,201.07 L357.00,200.64 L357.50,200.49 L358.00,200.41 L358.50,201.44 L359.00,201.14 L359.50,197.84 L360.00,195.81 L360.50,193.85 L361.00,192.01 L361.50,190.35 L362.00,188.89 L362.50,187.68 L363.00,186.74 L363.50,186.09 L364.00,185.72 L364.50,185.63 L365.00,185.87 L365.50,186.49 L366.00,187.42 L366.50,188.62 L367.00,190.02 L367.50,191.62 L368.00,193.41 L368.50,195.37 L369.00,197.41 L369.50,199.44 L370.00,201.39 L370.50,203.30 L371.00,205.22 L371.50,207.09 L372.00,208.85 L372.50,210.41 L373.00,211.82 L373.50,213.09 L374.00,214.25 L374.50,215.28 L375.00,216.02 L375.50,217.02 L376.00,217.92 L376.50,218.51 L377.00,218.74 L377.50,218.88 L378.00,219.10 L378.50,219.15 L379.00,219.20 L379.50,219.22 L380.00,219.22 L380.50,219.22 L381.00,219.26 L381.50,219.30 L382.00,219.38 L382.50,219.59 L383.00,219.81 L383.50,219.90 L384.00,219.81 L384.50,219.72 L385.00,219.62 L385.50,219.51 L386.00,219.40 L386.50,219.60 L387.00,219.88 L387.50,220.16 L388.00,220.14 L388.50,220.11 L389.00,220.09 L389.50,220.08 L390.00,220.06 L390.50,220.05 L391.00,220.03 L391.50,220.02 L392.00,219.98 L392.50,219.92 L393.00,219.86 L393.50,219.97 L394.00,220.12 L394.50,220.27 L395.00,220.19 L395.50,220.12 L396.00,220.04 L396.50,219.98 L397.00,219.91 L397.50,220.00 L398.00,220.30 L398.50,220.60 L399.00,220.60 L399.50,220.46 L400.00,220.29 L400.50,220.39 L401.00,220.55 L401.50,220.60 L402.00,220.43 L402.50,220.16 L403.00,219.96 L403.50,220.06 L404.00,220.17 L404.50,220.27 L405.00,220.39 L405.50,220.50 L406.00,220.43 L406.50,220.23 L407.00,220.03 L407.50,220.16 L408.00,220.38 L408.50,220.59 L409.00,220.54 L409.50,220.49 L410.00,220.41 L410.50,220.23 L411.00,220.04 L411.50,219.95 L412.00,220.03 L412.50,220.10 L413.00,220.10 L413.50,220.06 L414.00,220.02 L414.50,220.22 L415.00,220.48 L415.50,220.60 L416.00,220.60 L416.50,220.58 L417.00,220.48 L417.50,220.30 L418.00,220.12 L418.50,219.98 L419.00,219.92 L419.50,219.86 L420.00,219.97 L420.50,220.19 L421.00,220.41 L421.50,220.47 L422.00,220.49 L422.50,220.51 L423.00,220.40 L423.50,220.30 L424.00,220.23 L424.50,220.28 L425.00,220.34 L425.50,220.36 L426.00,220.32 L426.50,220.28 L427.00,220.22 L427.50,220.14 L428.00,220.06 L428.50,220.01 L429.00,219.97 L429.50,219.93 L430.00,220.20 L430.50,220.48 L431.00,220.60 L431.50,220.60 L432.00,220.58 L432.50,220.52 L433.00,220.46 L433.50,220.40 L434.00,220.45 L434.50,220.58 L435.00,220.60 L435.50,220.54 L436.00,220.30 L436.50,220.06 L437.00,220.25 L437.50,220.44 L438.00,220.55 L438.50,220.34 L439.00,220.12 L439.50,220.06 L440.00,220.23 L440.50,220.40 L441.00,220.39 L441.50,220.27 L442.00,220.14 L442.50,220.14 L443.00,220.16 L443.50,220.19 L444.00,220.26 L444.50,220.33 L445.00,220.38 L445.50,220.35 L446.00,220.33 L446.50,220.26 L447.00,220.14 L447.50,220.01 L448.00,219.94 L448.50,219.91 L449.00,219.88 L449.50,220.04 L450.00,220.23 L450.50,220.43" fill="none" stroke="#4a4a4a" stroke-width="0.6" stroke-linejoin="round"/>
<rect x="303.5" y="143.6" width="148.60" height="77.70" fill="none" stroke="#444" stroke-width="1.05"/>
<text transform="translate(296.50,145.00) scale(1.55,1)" font-size="3.8" text-anchor="end" font-family='"Liberation Sans", sans-serif' class="t" letter-spacing="0.3">300</text>
<path d="M300.50,143.70 H303.50" stroke="#777" stroke-width="0.6"/>
<text transform="translate(296.50,170.80) scale(1.55,1)" font-size="3.8" text-anchor="end" font-family='"Liberation Sans", sans-serif' class="t" letter-spacing="0.3">200</text>
<path d="M300.50,169.50 H303.50" stroke="#777" stroke-width="0.6"/>
<text transform="translate(296.50,196.90) scale(1.55,1)" font-size="3.8" text-anchor="end" font-family='"Liberation Sans", sans-serif' class="t" letter-spacing="0.3">100</text>
<path d="M300.50,195.60 H303.50" stroke="#777" stroke-width="0.6"/>
<text transform="translate(296.50,222.60) scale(1.55,1)" font-size="3.8" text-anchor="end" font-family='"Liberation Sans", sans-serif' class="t" letter-spacing="0.3">0</text>
<path d="M300.50,221.30 H303.50" stroke="#777" stroke-width="0.6"/>
<text transform="translate(303.70,227.90) scale(1.55,1)" font-size="3.8" text-anchor="middle" font-family='"Liberation Sans", sans-serif' class="t" letter-spacing="0.3">0</text>
<path d="M303.70,221.30 v2" stroke="#777" stroke-width="0.6"/>
<text transform="translate(332.66,227.90) scale(1.55,1)" font-size="3.8" text-anchor="middle" font-family='"Liberation Sans", sans-serif' class="t" letter-spacing="0.3">200</text>
<path d="M332.66,221.30 v2" stroke="#777" stroke-width="0.6"/>
<text transform="translate(361.62,227.90) scale(1.55,1)" font-size="3.8" text-anchor="middle" font-family='"Liberation Sans", sans-serif' class="t" letter-spacing="0.3">400</text>
<path d="M361.62,221.30 v2" stroke="#777" stroke-width="0.6"/>
<text transform="translate(390.58,227.90) scale(1.55,1)" font-size="3.8" text-anchor="middle" font-family='"Liberation Sans", sans-serif' class="t" letter-spacing="0.3">600</text>
<path d="M390.58,221.30 v2" stroke="#777" stroke-width="0.6"/>
<text transform="translate(419.54,227.90) scale(1.55,1)" font-size="3.8" text-anchor="middle" font-family='"Liberation Sans", sans-serif' class="t" letter-spacing="0.3">800</text>
<path d="M419.54,221.30 v2" stroke="#777" stroke-width="0.6"/>
<text transform="translate(448.50,227.90) scale(1.55,1)" font-size="3.8" text-anchor="middle" font-family='"Liberation Sans", sans-serif' class="t" letter-spacing="0.3">1000</text>
<path d="M448.50,221.30 v2" stroke="#777" stroke-width="0.6"/>
<text transform="translate(303.20,140.50) scale(1.0,1)" font-size="17.4" font-family='"Liberation Sans", sans-serif' font-weight="bold" class="L">D</text>
<text x="378.50" y="137.70" font-size="12.2" text-anchor="middle" font-family='"Liberation Serif", serif' font-weight="normal" >Chim3</text>
<text x="333.80" y="160.00" font-size="12.0" text-anchor="end" font-family='"Liberation Serif", serif' font-weight="normal" >42%</text>
<text x="344.00" y="183.40" font-size="12.0" text-anchor="start" font-family='"Liberation Serif", serif' font-weight="normal" >42%</text>
<text x="372.40" y="193.90" font-size="12.0" text-anchor="start" font-family='"Liberation Serif", serif' font-weight="normal" >36%</text>
<text x="420.00" y="159.80" font-size="12.0" text-anchor="start" font-family='"Liberation Serif", serif' font-weight="normal" >0.84</text>
<path d="M138.60,360.80 L138.60,360.47 L139.10,360.11 L139.60,359.62 L140.10,359.00 L140.60,358.36 L141.10,357.72 L141.60,357.08 L142.10,356.44 L142.60,355.80 L143.10,355.15 L143.60,354.51 L144.10,353.87 L144.60,353.23 L145.10,352.59 L145.60,351.95 L146.10,351.30 L146.60,350.66 L147.10,350.02 L147.60,349.38 L148.10,348.74 L148.60,348.10 L149.10,347.49 L149.60,347.03 L150.10,346.72 L150.60,346.57 L151.10,346.57 L151.60,346.69 L152.10,346.82 L152.60,346.94 L153.10,347.06 L153.60,347.19 L154.10,347.31 L154.60,347.43 L155.10,347.56 L155.60,347.68 L156.10,347.80 L156.60,347.92 L157.10,348.05 L157.60,348.17 L158.10,348.29 L158.60,348.42 L159.10,348.54 L159.60,348.66 L160.10,348.79 L160.60,348.91 L161.10,349.03 L161.60,349.16 L162.10,349.29 L162.60,349.46 L163.10,349.68 L163.60,349.93 L164.10,350.23 L164.60,350.56 L165.10,350.90 L165.60,351.23 L166.10,351.56 L166.60,351.89 L167.10,352.23 L167.60,352.56 L168.10,352.89 L168.60,353.22 L169.10,353.55 L169.60,353.89 L170.10,354.22 L170.60,354.55 L171.10,354.88 L171.60,355.22 L172.10,355.55 L172.60,355.88 L173.10,356.21 L173.60,356.55 L174.10,356.88 L174.60,357.21 L175.10,357.54 L175.60,357.88 L176.10,358.21 L176.60,358.54 L177.10,358.87 L177.60,359.20 L178.10,359.54 L178.60,359.87 L179.10,360.19 L179.60,360.44 L179.60,360.80 Z" fill="url(#hatch)"/>
<path d="M130.60,360.80 L130.60,360.60 L131.10,360.52 L131.60,360.41 L132.10,360.24 L132.60,360.01 L133.10,359.66 L133.60,359.15 L134.10,358.42 L134.60,357.40 L135.10,355.98 L135.60,354.06 L136.10,351.54 L136.60,348.32 L137.10,344.33 L137.60,339.55 L138.10,334.02 L138.60,327.86 L139.10,321.26 L139.60,314.52 L140.10,308.00 L140.60,302.07 L141.10,297.15 L141.60,293.58 L142.10,291.62 L142.60,291.44 L143.10,293.05 L143.60,296.32 L144.10,301.00 L144.60,306.75 L145.10,313.19 L145.60,319.92 L146.10,326.57 L146.60,332.84 L147.10,338.50 L147.60,343.44 L148.10,347.58 L148.60,350.95 L149.10,353.61 L149.60,355.64 L150.10,357.15 L150.60,358.25 L151.10,359.03 L151.60,359.57 L152.10,359.95 L152.60,360.20 L153.10,360.38 L153.60,360.50 L154.10,360.58 L154.10,360.80 Z" fill="#c8c8c8"/>
<path d="M138.60,360.80 L138.60,360.47 L139.10,360.11 L139.60,359.62 L140.10,359.00 L140.60,358.36 L141.10,357.72 L141.60,357.08 L142.10,356.44 L142.60,355.80 L143.10,355.15 L143.60,354.51 L144.10,353.87 L144.60,353.23 L145.10,352.59 L145.60,351.95 L146.10,351.30 L146.60,350.66 L147.10,350.02 L147.60,349.38 L148.10,348.74 L148.60,350.95 L149.10,353.61 L149.60,355.64 L150.10,357.15 L150.60,358.25 L151.10,359.03 L151.60,359.57 L152.10,359.95 L152.60,360.20 L153.10,360.38 L153.60,360.50 L154.10,360.58 L154.10,360.80 Z" fill="#a8a8a8"/>
<path d="M147.60,360.80 L147.60,360.59 L148.10,360.55 L148.60,360.51 L149.10,360.45 L149.60,360.38 L150.10,360.30 L150.60,360.21 L151.10,360.10 L151.60,359.97 L152.10,359.82 L152.60,359.65 L153.10,359.45 L153.60,359.23 L154.10,358.97 L154.60,358.68 L155.10,358.36 L155.60,358.00 L156.10,357.60 L156.60,357.16 L157.10,356.68 L157.60,356.16 L158.10,355.60 L158.60,355.00 L159.10,354.37 L159.60,353.70 L160.10,353.00 L160.60,352.28 L161.10,351.54 L161.60,350.79 L162.10,350.03 L162.60,349.28 L163.10,348.54 L163.60,347.83 L164.10,347.15 L164.60,346.50 L165.10,345.91 L165.60,345.38 L166.10,344.91 L166.60,344.52 L167.10,344.21 L167.60,343.98 L168.10,343.85 L168.60,343.80 L169.10,343.85 L169.60,343.98 L170.10,344.21 L170.60,344.52 L171.10,344.91 L171.60,345.38 L172.10,345.91 L172.60,346.50 L173.10,347.15 L173.60,347.83 L174.10,348.54 L174.60,349.28 L175.10,350.03 L175.60,350.79 L176.10,351.54 L176.60,352.28 L177.10,353.00 L177.60,353.70 L178.10,354.37 L178.60,355.00 L179.10,355.60 L179.60,356.16 L180.10,356.68 L180.60,357.16 L181.10,357.60 L181.60,358.00 L182.10,358.36 L182.60,358.68 L183.10,358.97 L183.60,359.23 L184.10,359.45 L184.60,359.65 L185.10,359.82 L185.60,359.97 L186.10,360.10 L186.60,360.21 L187.10,360.30 L187.60,360.38 L188.10,360.45 L188.60,360.51 L189.10,360.55 L189.60,360.59 L189.60,360.80 Z" fill="#6c6c6c"/>
<path d="M147.60,360.80 L147.60,360.59 L148.10,360.55 L148.60,360.51 L149.10,360.45 L149.60,360.38 L150.10,360.30 L150.60,360.21 L151.10,360.10 L151.60,359.97 L152.10,359.82 L152.60,359.65 L153.10,359.45 L153.60,359.23 L154.10,358.97 L154.60,358.68 L155.10,358.36 L155.60,358.00 L156.10,357.60 L156.60,357.16 L157.10,356.68 L157.60,356.16 L158.10,355.60 L158.60,355.00 L159.10,354.37 L159.60,353.70 L160.10,353.00 L160.60,352.28 L161.10,351.54 L161.60,350.79 L162.10,350.03 L162.60,349.46 L163.10,349.68 L163.60,349.93 L164.10,350.23 L164.60,350.56 L165.10,350.90 L165.60,351.23 L166.10,351.56 L166.60,351.89 L167.10,352.23 L167.60,352.56 L168.10,352.89 L168.60,353.22 L169.10,353.55 L169.60,353.89 L170.10,354.22 L170.60,354.55 L171.10,354.88 L171.60,355.22 L172.10,355.55 L172.60,355.88 L173.10,356.21 L173.60,356.55 L174.10,356.88 L174.60,357.21 L175.10,357.54 L175.60,357.88 L176.10,358.21 L176.60,358.54 L177.10,358.87 L177.60,359.20 L178.10,359.54 L178.60,359.87 L179.10,360.19 L179.60,360.44 L179.60,360.80 Z" fill="#464646"/>
<path d="M111.10,360.36 L111.60,360.40 L112.10,360.39 L112.60,360.38 L113.10,360.36 L113.60,360.33 L114.10,360.29 L114.60,360.29 L115.10,360.31 L115.60,360.34 L116.10,360.30 L116.60,360.25 L117.10,360.20 L117.60,360.21 L118.10,360.22 L118.60,360.23 L119.10,360.22 L119.60,360.22 L120.10,360.23 L120.60,360.27 L121.10,360.30 L121.60,360.30 L122.10,360.26 L122.60,360.23 L123.10,360.24 L123.60,360.26 L124.10,360.28 L124.60,360.26 L125.10,360.23 L125.60,360.22 L126.10,360.26 L126.60,360.30 L127.10,360.31 L127.60,360.29 L128.10,360.26 L128.60,360.24 L129.10,360.23 L129.60,360.22 L130.10,360.19 L130.60,360.14 L131.10,360.08 L131.60,359.99 L132.10,359.85 L132.60,359.65 L133.10,359.35 L133.60,358.92 L134.10,358.25 L134.60,357.25 L135.10,355.85 L135.60,353.94 L136.10,351.42 L136.60,348.20 L137.10,344.21 L137.60,339.41 L138.10,333.87 L138.60,327.67 L139.10,321.04 L139.60,314.28 L140.10,307.75 L140.60,301.83 L141.10,296.91 L141.60,293.33 L142.10,291.37 L142.60,291.18 L143.10,292.79 L143.60,296.06 L144.10,300.74 L144.60,306.48 L145.10,311.53 L145.60,316.66 L146.10,321.73 L146.60,326.46 L147.10,330.61 L147.60,334.13 L148.10,336.99 L148.60,339.18 L149.10,340.80 L149.60,342.07 L150.10,343.44 L150.60,344.58 L151.10,344.84 L151.60,344.87 L152.10,344.77 L152.60,345.19 L153.10,345.53 L153.60,345.85 L154.10,346.22 L154.60,346.57 L155.10,346.89 L155.60,347.19 L156.10,347.47 L156.60,347.60 L157.10,347.63 L157.60,347.65 L158.10,347.71 L158.60,347.79 L159.10,347.86 L159.60,347.75 L160.10,347.64 L160.60,347.55 L161.10,347.57 L161.60,347.58 L162.10,347.24 L162.60,347.30 L163.10,347.42 L163.60,347.55 L164.10,346.99 L164.60,346.31 L165.10,345.70 L165.60,345.13 L166.10,344.64 L166.60,344.26 L167.10,343.95 L167.60,343.74 L168.10,343.60 L168.60,343.56 L169.10,343.60 L169.60,343.72 L170.10,343.92 L170.60,344.24 L171.10,344.67 L171.60,345.17 L172.10,345.74 L172.60,346.37 L173.10,347.06 L173.60,347.74 L174.10,348.45 L174.60,349.18 L175.10,349.93 L175.60,350.68 L176.10,351.42 L176.60,352.14 L177.10,352.83 L177.60,353.51 L178.10,354.16 L178.60,354.77 L179.10,355.34 L179.60,355.88 L180.10,356.38 L180.60,356.92 L181.10,357.43 L181.60,357.88 L182.10,358.21 L182.60,358.57 L183.10,358.76 L183.60,358.96 L184.10,359.13 L184.60,359.34 L185.10,359.50 L185.60,359.59 L186.10,359.69 L186.60,359.79 L187.10,359.89 L187.60,359.95 L188.10,360.01 L188.60,360.02 L189.10,359.82 L189.60,359.63 L190.10,359.50 L190.60,359.50 L191.10,359.50 L191.60,359.65 L192.10,359.91 L192.60,360.17 L193.10,360.23 L193.60,360.23 L194.10,360.22 L194.60,360.17 L195.10,360.11 L195.60,360.07 L196.10,360.11 L196.60,360.15 L197.10,360.14 L197.60,360.07 L198.10,360.00 L198.60,360.11 L199.10,360.34 L199.60,360.57 L200.10,360.54 L200.60,360.45 L201.10,360.36 L201.60,360.21 L202.10,360.06 L202.60,359.96 L203.10,360.06 L203.60,360.15 L204.10,360.28 L204.60,360.47 L205.10,360.60 L205.60,360.59 L206.10,360.32 L206.60,360.06 L207.10,360.03 L207.60,360.06 L208.10,360.08 L208.60,360.29 L209.10,360.50 L209.60,360.60 L210.10,360.43 L210.60,360.23 L211.10,360.14 L211.60,360.21 L212.10,360.28 L212.60,360.37 L213.10,360.47 L213.60,360.57 L214.10,360.40 L214.60,360.16 L215.10,359.92 L215.60,359.94 L216.10,359.96 L216.60,359.96 L217.10,359.92 L217.60,359.87 L218.10,359.92 L218.60,360.13 L219.10,360.34 L219.60,360.30 L220.10,360.11 L220.60,359.92 L221.10,359.96 L221.60,360.07 L222.10,360.18 L222.60,360.24 L223.10,360.30 L223.60,360.38 L224.10,360.52 L224.60,360.60 L225.10,360.60 L225.60,360.60 L226.10,360.60 L226.60,360.60 L227.10,360.46 L227.60,360.33 L228.10,360.42 L228.60,360.58 L229.10,360.60 L229.60,360.47 L230.10,360.20 L230.60,360.00 L231.10,360.08 L231.60,360.16 L232.10,360.27 L232.60,360.41 L233.10,360.55 L233.60,360.51 L234.10,360.37 L234.60,360.22 L235.10,360.21 L235.60,360.23 L236.10,360.25 L236.60,360.32 L237.10,360.40 L237.60,360.47 L238.10,360.55 L238.60,360.60 L239.10,360.56 L239.60,360.27 L240.10,359.99 L240.60,359.87 L241.10,359.87 L241.60,359.86 L242.10,359.91 L242.60,359.98 L243.10,360.05 L243.60,359.99 L244.10,359.94 L244.60,359.96 L245.10,360.26 L245.60,360.56 L246.10,360.60 L246.60,360.43 L247.10,360.20 L247.60,360.06 L248.10,359.97 L248.60,359.87 L249.10,359.92 L249.60,360.01 L250.10,360.10 L250.60,360.08 L251.10,360.06 L251.60,360.04 L252.10,360.04 L252.60,360.04 L253.10,360.01 L253.60,359.93 L254.10,359.85 L254.60,359.92 L255.10,360.10 L255.60,360.28 L256.10,360.29 L256.60,360.25" fill="none" stroke="#4a4a4a" stroke-width="0.6" stroke-linejoin="round"/>
<rect x="110.1" y="283.7" width="148.40" height="77.60" fill="none" stroke="#444" stroke-width="1.05"/>
<text transform="translate(103.10,300.80) scale(1.55,1)" font-size="3.8" text-anchor="end" font-family='"Liberation Sans", sans-serif' class="t" letter-spacing="0.3">300</text>
<path d="M107.10,299.50 H110.10" stroke="#777" stroke-width="0.6"/>
<text transform="translate(103.10,321.40) scale(1.55,1)" font-size="3.8" text-anchor="end" font-family='"Liberation Sans", sans-serif' class="t" letter-spacing="0.3">200</text>
<path d="M107.10,320.10 H110.10" stroke="#777" stroke-width="0.6"/>
<text transform="translate(103.10,342.00) scale(1.55,1)" font-size="3.8" text-anchor="end" font-family='"Liberation Sans", sans-serif' class="t" letter-spacing="0.3">100</text>
<path d="M107.10,340.70 H110.10" stroke="#777" stroke-width="0.6"/>
<text transform="translate(103.10,362.60) scale(1.55,1)" font-size="3.8" text-anchor="end" font-family='"Liberation Sans", sans-serif' class="t" letter-spacing="0.3">0</text>
<path d="M107.10,361.30 H110.10" stroke="#777" stroke-width="0.6"/>
<text transform="translate(109.80,367.90) scale(1.55,1)" font-size="3.8" text-anchor="middle" font-family='"Liberation Sans", sans-serif' class="t" letter-spacing="0.3">0</text>
<path d="M109.80,361.30 v2" stroke="#777" stroke-width="0.6"/>
<text transform="translate(138.70,367.90) scale(1.55,1)" font-size="3.8" text-anchor="middle" font-family='"Liberation Sans", sans-serif' class="t" letter-spacing="0.3">200</text>
<path d="M138.70,361.30 v2" stroke="#777" stroke-width="0.6"/>
<text transform="translate(167.60,367.90) scale(1.55,1)" font-size="3.8" text-anchor="middle" font-family='"Liberation Sans", sans-serif' class="t" letter-spacing="0.3">400</text>
<path d="M167.60,361.30 v2" stroke="#777" stroke-width="0.6"/>
<text transform="translate(196.50,367.90) scale(1.55,1)" font-size="3.8" text-anchor="middle" font-family='"Liberation Sans", sans-serif' class="t" letter-spacing="0.3">600</text>
<path d="M196.50,361.30 v2" stroke="#777" stroke-width="0.6"/>
<text transform="translate(225.40,367.90) scale(1.55,1)" font-size="3.8" text-anchor="middle" font-family='"Liberation Sans", sans-serif' class="t" letter-spacing="0.3">800</text>
<path d="M225.40,361.30 v2" stroke="#777" stroke-width="0.6"/>
<text transform="translate(254.30,367.90) scale(1.55,1)" font-size="3.8" text-anchor="middle" font-family='"Liberation Sans", sans-serif' class="t" letter-spacing="0.3">1000</text>
<path d="M254.30,361.30 v2" stroke="#777" stroke-width="0.6"/>
<text transform="translate(110.20,280.40) scale(1.0,1)" font-size="17.4" font-family='"Liberation Sans", sans-serif' font-weight="bold" class="L">E</text>
<text x="188.20" y="278.30" font-size="12.2" text-anchor="middle" font-family='"Liberation Serif", serif' font-weight="normal" >Empty</text>
<text x="136.20" y="296.70" font-size="12.0" text-anchor="end" font-family='"Liberation Serif", serif' font-weight="normal" >59%</text>
<text x="149.20" y="320.20" font-size="12.0" text-anchor="start" font-family='"Liberation Serif", serif' font-weight="normal" >38%</text>
<text x="173.50" y="342.50" font-size="12.0" text-anchor="start" font-family='"Liberation Serif", serif' font-weight="normal" >22%</text>
<text x="227.00" y="299.00" font-size="12.0" text-anchor="start" font-family='"Liberation Serif", serif' font-weight="normal" >0.36</text>
<path d="M331.10,360.80 L331.10,360.54 L331.60,360.26 L332.10,359.88 L332.60,359.40 L333.10,358.90 L333.60,358.40 L334.10,357.90 L334.60,357.40 L335.10,356.90 L335.60,356.40 L336.10,355.90 L336.60,355.40 L337.10,354.90 L337.60,354.40 L338.10,353.90 L338.60,353.40 L339.10,352.90 L339.60,352.40 L340.10,351.90 L340.60,351.40 L341.10,350.90 L341.60,350.42 L342.10,350.07 L342.60,349.83 L343.10,349.71 L343.60,349.72 L344.10,349.82 L344.60,349.92 L345.10,350.02 L345.60,350.11 L346.10,350.21 L346.60,350.31 L347.10,350.41 L347.60,350.51 L348.10,350.61 L348.60,350.71 L349.10,350.81 L349.60,350.91 L350.10,351.01 L350.60,351.11 L351.10,351.21 L351.60,351.30 L352.10,351.40 L352.60,351.50 L353.10,351.60 L353.60,351.70 L354.10,351.83 L354.60,352.00 L355.10,352.20 L355.60,352.43 L356.10,352.69 L356.60,352.95 L357.10,353.22 L357.60,353.48 L358.10,353.74 L358.60,354.01 L359.10,354.27 L359.60,354.53 L360.10,354.80 L360.60,355.06 L361.10,355.32 L361.60,355.59 L362.10,355.85 L362.60,356.11 L363.10,356.38 L363.60,356.64 L364.10,356.90 L364.60,357.17 L365.10,357.43 L365.60,357.69 L366.10,357.96 L366.60,358.22 L367.10,358.48 L367.60,358.75 L368.10,359.01 L368.60,359.27 L369.10,359.54 L369.60,359.80 L370.10,360.06 L370.60,360.32 L371.10,360.52 L371.10,360.80 Z" fill="url(#hatch)"/>
<path d="M325.60,360.80 L325.60,360.55 L326.10,360.43 L326.60,360.27 L327.10,360.01 L327.60,359.62 L328.10,359.03 L328.60,358.15 L329.10,356.87 L329.60,355.07 L330.10,352.58 L330.60,349.29 L331.10,345.07 L331.60,339.88 L332.10,333.76 L332.60,326.85 L333.10,319.45 L333.60,311.95 L334.10,304.85 L334.60,298.70 L335.10,294.02 L335.60,291.21 L336.10,290.54 L336.60,292.09 L337.10,295.69 L337.60,301.02 L338.10,307.61 L338.60,314.93 L339.10,322.44 L339.60,329.69 L340.10,336.31 L340.60,342.07 L341.10,346.87 L341.60,350.71 L342.10,353.67 L342.60,355.86 L343.10,357.44 L343.60,358.54 L344.10,359.29 L344.60,359.80 L345.10,360.13 L345.60,360.34 L346.10,360.48 L346.60,360.58 L346.60,360.80 Z" fill="#c8c8c8"/>
<path d="M331.10,360.80 L331.10,360.54 L331.60,360.26 L332.10,359.88 L332.60,359.40 L333.10,358.90 L333.60,358.40 L334.10,357.90 L334.60,357.40 L335.10,356.90 L335.60,356.40 L336.10,355.90 L336.60,355.40 L337.10,354.90 L337.60,354.40 L338.10,353.90 L338.60,353.40 L339.10,352.90 L339.60,352.40 L340.10,351.90 L340.60,351.40 L341.10,350.90 L341.60,350.71 L342.10,353.67 L342.60,355.86 L343.10,357.44 L343.60,358.54 L344.10,359.29 L344.60,359.80 L345.10,360.13 L345.60,360.34 L346.10,360.48 L346.60,360.58 L346.60,360.80 Z" fill="#a8a8a8"/>
<path d="M340.60,360.80 L340.60,360.58 L341.10,360.53 L341.60,360.48 L342.10,360.42 L342.60,360.36 L343.10,360.27 L343.60,360.18 L344.10,360.07 L344.60,359.94 L345.10,359.80 L345.60,359.63 L346.10,359.44 L346.60,359.23 L347.10,358.99 L347.60,358.72 L348.10,358.42 L348.60,358.09 L349.10,357.73 L349.60,357.34 L350.10,356.91 L350.60,356.45 L351.10,355.96 L351.60,355.44 L352.10,354.89 L352.60,354.32 L353.10,353.73 L353.60,353.12 L354.10,352.50 L354.60,351.88 L355.10,351.25 L355.60,350.64 L356.10,350.03 L356.60,349.45 L357.10,348.90 L357.60,348.39 L358.10,347.92 L358.60,347.49 L359.10,347.13 L359.60,346.83 L360.10,346.59 L360.60,346.42 L361.10,346.32 L361.60,346.30 L362.10,346.35 L362.60,346.48 L363.10,346.67 L363.60,346.94 L364.10,347.27 L364.60,347.66 L365.10,348.10 L365.60,348.59 L366.10,349.12 L366.60,349.68 L367.10,350.27 L367.60,350.88 L368.10,351.50 L368.60,352.13 L369.10,352.75 L369.60,353.37 L370.10,353.97 L370.60,354.55 L371.10,355.12 L371.60,355.65 L372.10,356.16 L372.60,356.64 L373.10,357.09 L373.60,357.50 L374.10,357.88 L374.60,358.23 L375.10,358.55 L375.60,358.83 L376.10,359.09 L376.60,359.32 L377.10,359.52 L377.60,359.70 L378.10,359.86 L378.60,360.00 L379.10,360.12 L379.60,360.22 L380.10,360.31 L380.60,360.38 L381.10,360.45 L381.60,360.50 L382.10,360.55 L382.60,360.59 L382.60,360.80 Z" fill="#6c6c6c"/>
<path d="M340.60,360.80 L340.60,360.58 L341.10,360.53 L341.60,360.48 L342.10,360.42 L342.60,360.36 L343.10,360.27 L343.60,360.18 L344.10,360.07 L344.60,359.94 L345.10,359.80 L345.60,359.63 L346.10,359.44 L346.60,359.23 L347.10,358.99 L347.60,358.72 L348.10,358.42 L348.60,358.09 L349.10,357.73 L349.60,357.34 L350.10,356.91 L350.60,356.45 L351.10,355.96 L351.60,355.44 L352.10,354.89 L352.60,354.32 L353.10,353.73 L353.60,353.12 L354.10,352.50 L354.60,352.00 L355.10,352.20 L355.60,352.43 L356.10,352.69 L356.60,352.95 L357.10,353.22 L357.60,353.48 L358.10,353.74 L358.60,354.01 L359.10,354.27 L359.60,354.53 L360.10,354.80 L360.60,355.06 L361.10,355.32 L361.60,355.59 L362.10,355.85 L362.60,356.11 L363.10,356.38 L363.60,356.64 L364.10,356.90 L364.60,357.17 L365.10,357.43 L365.60,357.69 L366.10,357.96 L366.60,358.22 L367.10,358.48 L367.60,358.75 L368.10,359.01 L368.60,359.27 L369.10,359.54 L369.60,359.80 L370.10,360.06 L370.60,360.32 L371.10,360.52 L371.10,360.80 Z" fill="#464646"/>
<path d="M304.60,360.31 L305.10,360.35 L305.60,360.33 L306.10,360.32 L306.60,360.32 L307.10,360.35 L307.60,360.38 L308.10,360.34 L308.60,360.27 L309.10,360.20 L309.60,360.24 L310.10,360.31 L310.60,360.38 L311.10,360.34 L311.60,360.29 L312.10,360.26 L312.60,360.27 L313.10,360.27 L313.60,360.27 L314.10,360.26 L314.60,360.25 L315.10,360.26 L315.60,360.29 L316.10,360.32 L316.60,360.32 L317.10,360.33 L317.60,360.33 L318.10,360.33 L318.60,360.32 L319.10,360.33 L319.60,360.35 L320.10,360.38 L320.60,360.39 L321.10,360.36 L321.60,360.34 L322.10,360.32 L322.60,360.32 L323.10,360.31 L323.60,360.26 L324.10,360.20 L324.60,360.12 L325.10,360.11 L325.60,360.07 L326.10,360.01 L326.60,359.89 L327.10,359.71 L327.60,359.39 L328.10,358.90 L328.60,358.06 L329.10,356.77 L329.60,354.94 L330.10,352.43 L330.60,349.08 L331.10,344.81 L331.60,339.56 L332.10,333.52 L332.60,326.70 L333.10,319.35 L333.60,311.82 L334.10,304.69 L334.60,298.51 L335.10,293.79 L335.60,290.96 L336.10,290.31 L336.60,291.91 L337.10,295.57 L337.60,300.86 L338.10,307.39 L338.60,313.82 L339.10,319.70 L339.60,325.35 L340.10,330.46 L340.60,334.86 L341.10,338.44 L341.60,341.25 L342.10,343.45 L342.60,345.56 L343.10,346.62 L343.60,347.06 L344.10,347.32 L344.60,348.07 L345.10,348.82 L345.60,349.46 L346.10,349.34 L346.60,349.19 L347.10,349.06 L347.60,349.16 L348.10,349.25 L348.60,349.38 L349.10,349.58 L349.60,349.77 L350.10,349.80 L350.60,349.72 L351.10,349.63 L351.60,349.62 L352.10,349.63 L352.60,349.63 L353.10,349.63 L353.60,349.63 L354.10,349.70 L354.60,350.14 L355.10,350.28 L355.60,350.43 L356.10,349.80 L356.60,349.16 L357.10,348.61 L357.60,348.12 L358.10,347.68 L358.60,347.28 L359.10,346.94 L359.60,346.66 L360.10,346.44 L360.60,346.29 L361.10,346.20 L361.60,346.12 L362.10,346.11 L362.60,346.19 L363.10,346.38 L363.60,346.63 L364.10,346.96 L364.60,347.36 L365.10,347.81 L365.60,348.31 L366.10,348.86 L366.60,349.44 L367.10,350.03 L367.60,350.63 L368.10,351.25 L368.60,351.91 L369.10,352.56 L369.60,353.20 L370.10,353.82 L370.60,354.43 L371.10,354.96 L371.60,355.43 L372.10,355.87 L372.60,356.35 L373.10,356.81 L373.60,357.23 L374.10,357.63 L374.60,358.00 L375.10,358.33 L375.60,358.45 L376.10,358.59 L376.60,358.85 L377.10,359.31 L377.60,359.75 L378.10,359.91 L378.60,359.96 L379.10,360.01 L379.60,359.99 L380.10,359.96 L380.60,359.93 L381.10,359.73 L381.60,359.54 L382.10,359.42 L382.60,359.64 L383.10,359.86 L383.60,360.04 L384.10,360.15 L384.60,360.27 L385.10,360.31 L385.60,360.30 L386.10,360.29 L386.60,360.32 L387.10,360.36 L387.60,360.40 L388.10,360.14 L388.60,359.88 L389.10,359.67 L389.60,359.66 L390.10,359.65 L390.60,359.78 L391.10,360.12 L391.60,360.46 L392.10,360.47 L392.60,360.27 L393.10,360.07 L393.60,360.16 L394.10,360.34 L394.60,360.51 L395.10,360.29 L395.60,360.08 L396.10,359.95 L396.60,360.17 L397.10,360.39 L397.60,360.46 L398.10,360.29 L398.60,360.12 L399.10,360.20 L399.60,360.45 L400.10,360.60 L400.60,360.60 L401.10,360.41 L401.60,360.23 L402.10,360.28 L402.60,360.33 L403.10,360.40 L403.60,360.50 L404.10,360.60 L404.60,360.56 L405.10,360.28 L405.60,359.99 L406.10,359.98 L406.60,360.14 L407.10,360.30 L407.60,360.26 L408.10,360.16 L408.60,360.06 L409.10,360.26 L409.60,360.45 L410.10,360.60 L410.60,360.56 L411.10,360.51 L411.60,360.40 L412.10,360.20 L412.60,360.00 L413.10,360.00 L413.60,360.13 L414.10,360.25 L414.60,360.15 L415.10,359.99 L415.60,359.83 L416.10,359.93 L416.60,360.04 L417.10,360.10 L417.60,359.99 L418.10,359.88 L418.60,359.91 L419.10,360.14 L419.60,360.36 L420.10,360.42 L420.60,360.35 L421.10,360.29 L421.60,360.17 L422.10,360.03 L422.60,359.89 L423.10,360.20 L423.60,360.51 L424.10,360.60 L424.60,360.54 L425.10,360.36 L425.60,360.33 L426.10,360.52 L426.60,360.60 L427.10,360.60 L427.60,360.60 L428.10,360.58 L428.60,360.51 L429.10,360.44 L429.60,360.38 L430.10,360.44 L430.60,360.50 L431.10,360.56 L431.60,360.60 L432.10,360.60 L432.60,360.60 L433.10,360.60 L433.60,360.60 L434.10,360.60 L434.60,360.38 L435.10,360.17 L435.60,360.07 L436.10,360.00 L436.60,359.93 L437.10,360.03 L437.60,360.12 L438.10,360.22 L438.60,360.31 L439.10,360.41 L439.60,360.41 L440.10,360.27 L440.60,360.13 L441.10,360.22 L441.60,360.47 L442.10,360.60 L442.60,360.56 L443.10,360.29 L443.60,360.03 L444.10,360.10 L444.60,360.18 L445.10,360.24 L445.60,360.26 L446.10,360.28 L446.60,360.28 L447.10,360.25 L447.60,360.22 L448.10,360.30 L448.60,360.47 L449.10,360.60 L449.60,360.57 L450.10,360.45 L450.60,360.33" fill="none" stroke="#4a4a4a" stroke-width="0.6" stroke-linejoin="round"/>
<rect x="303.6" y="283.7" width="148.80" height="77.60" fill="none" stroke="#444" stroke-width="1.05"/>
<text transform="translate(296.60,286.50) scale(1.55,1)" font-size="3.8" text-anchor="end" font-family='"Liberation Sans", sans-serif' class="t" letter-spacing="0.3">80</text>
<path d="M300.60,285.20 H303.60" stroke="#777" stroke-width="0.6"/>
<text transform="translate(296.60,305.60) scale(1.55,1)" font-size="3.8" text-anchor="end" font-family='"Liberation Sans", sans-serif' class="t" letter-spacing="0.3">60</text>
<path d="M300.60,304.30 H303.60" stroke="#777" stroke-width="0.6"/>
<text transform="translate(296.60,324.70) scale(1.55,1)" font-size="3.8" text-anchor="end" font-family='"Liberation Sans", sans-serif' class="t" letter-spacing="0.3">40</text>
<path d="M300.60,323.40 H303.60" stroke="#777" stroke-width="0.6"/>
<text transform="translate(296.60,343.80) scale(1.55,1)" font-size="3.8" text-anchor="end" font-family='"Liberation Sans", sans-serif' class="t" letter-spacing="0.3">20</text>
<path d="M300.60,342.50 H303.60" stroke="#777" stroke-width="0.6"/>
<text transform="translate(296.60,362.60) scale(1.55,1)" font-size="3.8" text-anchor="end" font-family='"Liberation Sans", sans-serif' class="t" letter-spacing="0.3">0</text>
<path d="M300.60,361.30 H303.60" stroke="#777" stroke-width="0.6"/>
<text transform="translate(303.70,367.90) scale(1.55,1)" font-size="3.8" text-anchor="middle" font-family='"Liberation Sans", sans-serif' class="t" letter-spacing="0.3">0</text>
<path d="M303.70,361.30 v2" stroke="#777" stroke-width="0.6"/>
<text transform="translate(332.66,367.90) scale(1.55,1)" font-size="3.8" text-anchor="middle" font-family='"Liberation Sans", sans-serif' class="t" letter-spacing="0.3">200</text>
<path d="M332.66,361.30 v2" stroke="#777" stroke-width="0.6"/>
<text transform="translate(361.62,367.90) scale(1.55,1)" font-size="3.8" text-anchor="middle" font-family='"Liberation Sans", sans-serif' class="t" letter-spacing="0.3">400</text>
<path d="M361.62,361.30 v2" stroke="#777" stroke-width="0.6"/>
<text transform="translate(390.58,367.90) scale(1.55,1)" font-size="3.8" text-anchor="middle" font-family='"Liberation Sans", sans-serif' class="t" letter-spacing="0.3">600</text>
<path d="M390.58,361.30 v2" stroke="#777" stroke-width="0.6"/>
<text transform="translate(419.54,367.90) scale(1.55,1)" font-size="3.8" text-anchor="middle" font-family='"Liberation Sans", sans-serif' class="t" letter-spacing="0.3">800</text>
<path d="M419.54,361.30 v2" stroke="#777" stroke-width="0.6"/>
<text transform="translate(448.50,367.90) scale(1.55,1)" font-size="3.8" text-anchor="middle" font-family='"Liberation Sans", sans-serif' class="t" letter-spacing="0.3">1000</text>
<path d="M448.50,361.30 v2" stroke="#777" stroke-width="0.6"/>
<text transform="translate(303.20,280.40) scale(1.0,1)" font-size="17.4" font-family='"Liberation Sans", sans-serif' font-weight="bold" class="L">F</text>
<text x="378.50" y="278.30" font-size="12.2" text-anchor="middle" font-family='"Liberation Serif", serif' font-weight="normal" >Chim3</text>
<text x="331.40" y="297.50" font-size="12.0" text-anchor="end" font-family='"Liberation Serif", serif' font-weight="normal" >55%</text>
<text x="344.00" y="333.90" font-size="12.0" text-anchor="start" font-family='"Liberation Serif", serif' font-weight="normal" >35%</text>
<text x="369.00" y="346.80" font-size="12.0" text-anchor="start" font-family='"Liberation Serif", serif' font-weight="normal" >25%</text>
<text x="420.80" y="299.00" font-size="12.0" text-anchor="start" font-family='"Liberation Serif", serif' font-weight="normal" >0.45</text>
<path d="M138.70,466.80 L138.70,466.43 L139.20,466.05 L139.70,465.55 L140.20,464.93 L140.70,464.31 L141.20,463.68 L141.70,463.06 L142.20,462.44 L142.70,461.82 L143.20,461.19 L143.70,460.57 L144.20,459.95 L144.70,459.32 L145.20,458.70 L145.70,458.08 L146.20,457.45 L146.70,456.83 L147.20,456.21 L147.70,455.58 L148.20,454.96 L148.70,454.34 L149.20,453.72 L149.70,453.09 L150.20,452.47 L150.70,451.85 L151.20,451.40 L151.70,451.13 L152.20,451.03 L152.70,451.10 L153.20,451.36 L153.70,451.61 L154.20,451.86 L154.70,452.11 L155.20,452.36 L155.70,452.62 L156.20,452.87 L156.70,453.12 L157.20,453.37 L157.70,453.62 L158.20,453.88 L158.70,454.13 L159.20,454.38 L159.70,454.63 L160.20,454.88 L160.70,455.13 L161.20,455.39 L161.70,455.64 L162.20,455.89 L162.70,456.14 L163.20,456.39 L163.70,456.65 L164.20,456.91 L164.70,457.19 L165.20,457.47 L165.70,457.76 L166.20,458.06 L166.70,458.37 L167.20,458.67 L167.70,458.97 L168.20,459.27 L168.70,459.57 L169.20,459.87 L169.70,460.17 L170.20,460.47 L170.70,460.78 L171.20,461.08 L171.70,461.38 L172.20,461.68 L172.70,461.98 L173.20,462.28 L173.70,462.58 L174.20,462.88 L174.70,463.19 L175.20,463.49 L175.70,463.79 L176.20,464.09 L176.70,464.39 L177.20,464.69 L177.70,464.99 L178.20,465.29 L178.70,465.60 L179.20,465.90 L179.70,466.20 L180.20,466.44 L180.20,466.80 Z" fill="url(#hatch)"/>
<path d="M130.20,466.80 L130.20,466.60 L130.70,466.53 L131.20,466.44 L131.70,466.32 L132.20,466.14 L132.70,465.90 L133.20,465.55 L133.70,465.06 L134.20,464.40 L134.70,463.49 L135.20,462.27 L135.70,460.67 L136.20,458.60 L136.70,456.00 L137.20,452.79 L137.70,448.94 L138.20,444.42 L138.70,439.28 L139.20,433.60 L139.70,427.51 L140.20,421.21 L140.70,414.95 L141.20,409.01 L141.70,403.69 L142.20,399.27 L142.70,396.00 L143.20,394.08 L143.70,393.63 L144.20,394.68 L144.70,397.15 L145.20,400.91 L145.70,405.73 L146.20,411.33 L146.70,417.43 L147.20,423.74 L147.70,429.98 L148.20,435.93 L148.70,441.41 L149.20,446.31 L149.70,450.56 L150.20,454.15 L150.70,457.11 L151.20,459.49 L151.70,461.36 L152.20,462.80 L152.70,463.89 L153.20,464.69 L153.70,465.28 L154.20,465.70 L154.70,466.00 L155.20,466.22 L155.70,466.37 L156.20,466.48 L156.70,466.56 L156.70,466.80 Z" fill="#c8c8c8"/>
<path d="M138.70,466.80 L138.70,466.43 L139.20,466.05 L139.70,465.55 L140.20,464.93 L140.70,464.31 L141.20,463.68 L141.70,463.06 L142.20,462.44 L142.70,461.82 L143.20,461.19 L143.70,460.57 L144.20,459.95 L144.70,459.32 L145.20,458.70 L145.70,458.08 L146.20,457.45 L146.70,456.83 L147.20,456.21 L147.70,455.58 L148.20,454.96 L148.70,454.34 L149.20,453.72 L149.70,453.09 L150.20,454.15 L150.70,457.11 L151.20,459.49 L151.70,461.36 L152.20,462.80 L152.70,463.89 L153.20,464.69 L153.70,465.28 L154.20,465.70 L154.70,466.00 L155.20,466.22 L155.70,466.37 L156.20,466.48 L156.70,466.56 L156.70,466.80 Z" fill="#a8a8a8"/>
<path d="M152.20,466.80 L152.20,466.59 L152.70,466.55 L153.20,466.50 L153.70,466.43 L154.20,466.35 L154.70,466.26 L155.20,466.15 L155.70,466.02 L156.20,465.87 L156.70,465.69 L157.20,465.48 L157.70,465.24 L158.20,464.97 L158.70,464.66 L159.20,464.31 L159.70,463.92 L160.20,463.48 L160.70,463.01 L161.20,462.49 L161.70,461.93 L162.20,461.33 L162.70,460.70 L163.20,460.03 L163.70,459.34 L164.20,458.63 L164.70,457.90 L165.20,457.18 L165.70,456.46 L166.20,455.76 L166.70,455.09 L167.20,454.45 L167.70,453.87 L168.20,453.35 L168.70,452.89 L169.20,452.52 L169.70,452.22 L170.20,452.02 L170.70,451.92 L171.20,451.91 L171.70,451.99 L172.20,452.18 L172.70,452.45 L173.20,452.81 L173.70,453.25 L174.20,453.76 L174.70,454.33 L175.20,454.96 L175.70,455.62 L176.20,456.32 L176.70,457.03 L177.20,457.76 L177.70,458.48 L178.20,459.20 L178.70,459.89 L179.20,460.57 L179.70,461.21 L180.20,461.81 L180.70,462.38 L181.20,462.91 L181.70,463.39 L182.20,463.83 L182.70,464.23 L183.20,464.59 L183.70,464.91 L184.20,465.19 L184.70,465.43 L185.20,465.65 L185.70,465.83 L186.20,465.99 L186.70,466.13 L187.20,466.24 L187.70,466.34 L188.20,466.42 L188.70,466.48 L189.20,466.54 L189.70,466.59 L189.70,466.80 Z" fill="#6c6c6c"/>
<path d="M152.20,466.80 L152.20,466.59 L152.70,466.55 L153.20,466.50 L153.70,466.43 L154.20,466.35 L154.70,466.26 L155.20,466.15 L155.70,466.02 L156.20,465.87 L156.70,465.69 L157.20,465.48 L157.70,465.24 L158.20,464.97 L158.70,464.66 L159.20,464.31 L159.70,463.92 L160.20,463.48 L160.70,463.01 L161.20,462.49 L161.70,461.93 L162.20,461.33 L162.70,460.70 L163.20,460.03 L163.70,459.34 L164.20,458.63 L164.70,457.90 L165.20,457.47 L165.70,457.76 L166.20,458.06 L166.70,458.37 L167.20,458.67 L167.70,458.97 L168.20,459.27 L168.70,459.57 L169.20,459.87 L169.70,460.17 L170.20,460.47 L170.70,460.78 L171.20,461.08 L171.70,461.38 L172.20,461.68 L172.70,461.98 L173.20,462.28 L173.70,462.58 L174.20,462.88 L174.70,463.19 L175.20,463.49 L175.70,463.79 L176.20,464.09 L176.70,464.39 L177.20,464.69 L177.70,464.99 L178.20,465.29 L178.70,465.60 L179.20,465.90 L179.70,466.20 L180.20,466.44 L180.20,466.80 Z" fill="#464646"/>
<path d="M111.20,466.29 L111.70,466.28 L112.20,466.33 L112.70,466.39 L113.20,466.38 L113.70,466.30 L114.20,466.22 L114.70,466.19 L115.20,466.21 L115.70,466.22 L116.20,466.21 L116.70,466.20 L117.20,466.18 L117.70,466.24 L118.20,466.31 L118.70,466.36 L119.20,466.36 L119.70,466.37 L120.20,466.38 L120.70,466.39 L121.20,466.40 L121.70,466.40 L122.20,466.39 L122.70,466.37 L123.20,466.38 L123.70,466.40 L124.20,466.41 L124.70,466.35 L125.20,466.29 L125.70,466.24 L126.20,466.27 L126.70,466.29 L127.20,466.28 L127.70,466.23 L128.20,466.18 L128.70,466.15 L129.20,466.13 L129.70,466.11 L130.20,466.09 L130.70,466.07 L131.20,466.03 L131.70,465.94 L132.20,465.81 L132.70,465.61 L133.20,465.30 L133.70,464.87 L134.20,464.24 L134.70,463.36 L135.20,462.17 L135.70,460.55 L136.20,458.43 L136.70,455.77 L137.20,452.59 L137.70,448.77 L138.20,444.30 L138.70,439.16 L139.20,433.48 L139.70,427.38 L140.20,421.02 L140.70,414.70 L141.20,408.74 L141.70,403.45 L142.20,399.07 L142.70,395.79 L143.20,393.83 L143.70,393.33 L144.20,394.37 L144.70,396.84 L145.20,400.59 L145.70,405.44 L146.20,409.74 L146.70,414.33 L147.20,419.10 L147.70,423.82 L148.20,428.28 L148.70,432.32 L149.20,435.87 L149.70,438.85 L150.20,441.27 L150.70,443.16 L151.20,444.69 L151.70,445.84 L152.20,446.58 L152.70,447.76 L153.20,448.86 L153.70,449.76 L154.20,450.51 L154.70,451.14 L155.20,451.72 L155.70,452.25 L156.20,452.74 L156.70,452.97 L157.20,453.02 L157.70,453.07 L158.20,453.24 L158.70,453.44 L159.20,453.63 L159.70,454.02 L160.20,454.40 L160.70,454.71 L161.20,454.78 L161.70,454.85 L162.20,454.94 L162.70,455.07 L163.20,455.20 L163.70,455.30 L164.20,455.39 L164.70,455.49 L165.20,455.54 L165.70,455.72 L166.20,455.56 L166.70,454.88 L167.20,454.24 L167.70,453.65 L168.20,453.10 L168.70,452.62 L169.20,452.25 L169.70,452.01 L170.20,451.85 L170.70,451.78 L171.20,451.78 L171.70,451.89 L172.20,452.06 L172.70,452.32 L173.20,452.66 L173.70,453.11 L174.20,453.62 L174.70,454.20 L175.20,454.79 L175.70,455.42 L176.20,456.10 L176.70,456.83 L177.20,457.56 L177.70,458.30 L178.20,459.02 L178.70,459.73 L179.20,460.42 L179.70,461.09 L180.20,461.71 L180.70,462.22 L181.20,462.69 L181.70,463.13 L182.20,463.59 L182.70,464.00 L183.20,464.36 L183.70,464.58 L184.20,464.86 L184.70,465.09 L185.20,465.21 L185.70,465.22 L186.20,465.21 L186.70,465.19 L187.20,465.17 L187.70,465.49 L188.20,465.82 L188.70,466.07 L189.20,466.05 L189.70,466.02 L190.20,465.98 L190.70,465.90 L191.20,465.83 L191.70,465.77 L192.20,465.71 L192.70,465.65 L193.20,465.72 L193.70,465.81 L194.20,465.90 L194.70,465.92 L195.20,465.94 L195.70,465.98 L196.20,466.07 L196.70,466.16 L197.20,466.23 L197.70,466.27 L198.20,466.31 L198.70,466.20 L199.20,465.99 L199.70,465.78 L200.20,465.72 L200.70,465.69 L201.20,465.67 L201.70,465.85 L202.20,466.04 L202.70,466.19 L203.20,466.22 L203.70,466.24 L204.20,466.31 L204.70,466.44 L205.20,466.57 L205.70,466.53 L206.20,466.37 L206.70,466.21 L207.20,466.30 L207.70,466.45 L208.20,466.59 L208.70,466.44 L209.20,466.29 L209.70,466.20 L210.20,466.32 L210.70,466.45 L211.20,466.49 L211.70,466.43 L212.20,466.36 L212.70,466.25 L213.20,466.11 L213.70,465.96 L214.20,466.09 L214.70,466.29 L215.20,466.49 L215.70,466.41 L216.20,466.33 L216.70,466.28 L217.20,466.36 L217.70,466.44 L218.20,466.46 L218.70,466.40 L219.20,466.34 L219.70,466.23 L220.20,466.10 L220.70,465.96 L221.20,466.04 L221.70,466.17 L222.20,466.31 L222.70,466.14 L223.20,465.97 L223.70,465.88 L224.20,466.07 L224.70,466.27 L225.20,466.39 L225.70,466.37 L226.20,466.35 L226.70,466.31 L227.20,466.24 L227.70,466.17 L228.20,466.20 L228.70,466.25 L229.20,466.30 L229.70,466.24 L230.20,466.18 L230.70,466.16 L231.20,466.29 L231.70,466.43 L232.20,466.55 L232.70,466.60 L233.20,466.60 L233.70,466.60 L234.20,466.55 L234.70,466.41 L235.20,466.48 L235.70,466.60 L236.20,466.60 L236.70,466.60 L237.20,466.60 L237.70,466.53 L238.20,466.40 L238.70,466.28 L239.20,466.19 L239.70,466.16 L240.20,466.12 L240.70,466.06 L241.20,465.98 L241.70,465.91 L242.20,465.96 L242.70,466.04 L243.20,466.12 L243.70,466.17 L244.20,466.21 L244.70,466.26 L245.20,466.34 L245.70,466.41 L246.20,466.44 L246.70,466.39 L247.20,466.34 L247.70,466.36 L248.20,466.43 L248.70,466.50 L249.20,466.56 L249.70,466.60 L250.20,466.60 L250.70,466.54 L251.20,466.39 L251.70,466.26 L252.20,466.22 L252.70,466.19 L253.20,466.22 L253.70,466.33 L254.20,466.45 L254.70,466.40 L255.20,466.25 L255.70,466.09 L256.20,466.12 L256.70,466.20" fill="none" stroke="#4a4a4a" stroke-width="0.6" stroke-linejoin="round"/>
<rect x="110.2" y="389.4" width="148.30" height="77.90" fill="none" stroke="#444" stroke-width="1.05"/>
<text transform="translate(103.20,392.30) scale(1.55,1)" font-size="3.8" text-anchor="end" font-family='"Liberation Sans", sans-serif' class="t" letter-spacing="0.3">400</text>
<path d="M107.20,391.00 H110.20" stroke="#777" stroke-width="0.6"/>
<text transform="translate(103.20,411.40) scale(1.55,1)" font-size="3.8" text-anchor="end" font-family='"Liberation Sans", sans-serif' class="t" letter-spacing="0.3">300</text>
<path d="M107.20,410.10 H110.20" stroke="#777" stroke-width="0.6"/>
<text transform="translate(103.20,430.50) scale(1.55,1)" font-size="3.8" text-anchor="end" font-family='"Liberation Sans", sans-serif' class="t" letter-spacing="0.3">200</text>
<path d="M107.20,429.20 H110.20" stroke="#777" stroke-width="0.6"/>
<text transform="translate(103.20,449.60) scale(1.55,1)" font-size="3.8" text-anchor="end" font-family='"Liberation Sans", sans-serif' class="t" letter-spacing="0.3">100</text>
<path d="M107.20,448.30 H110.20" stroke="#777" stroke-width="0.6"/>
<text transform="translate(103.20,468.60) scale(1.55,1)" font-size="3.8" text-anchor="end" font-family='"Liberation Sans", sans-serif' class="t" letter-spacing="0.3">0</text>
<path d="M107.20,467.30 H110.20" stroke="#777" stroke-width="0.6"/>
<text transform="translate(109.80,473.90) scale(1.55,1)" font-size="3.8" text-anchor="middle" font-family='"Liberation Sans", sans-serif' class="t" letter-spacing="0.3">0</text>
<path d="M109.80,467.30 v2" stroke="#777" stroke-width="0.6"/>
<text transform="translate(138.70,473.90) scale(1.55,1)" font-size="3.8" text-anchor="middle" font-family='"Liberation Sans", sans-serif' class="t" letter-spacing="0.3">200</text>
<path d="M138.70,467.30 v2" stroke="#777" stroke-width="0.6"/>
<text transform="translate(167.60,473.90) scale(1.55,1)" font-size="3.8" text-anchor="middle" font-family='"Liberation Sans", sans-serif' class="t" letter-spacing="0.3">400</text>
<path d="M167.60,467.30 v2" stroke="#777" stroke-width="0.6"/>
<text transform="translate(196.50,473.90) scale(1.55,1)" font-size="3.8" text-anchor="middle" font-family='"Liberation Sans", sans-serif' class="t" letter-spacing="0.3">600</text>
<path d="M196.50,467.30 v2" stroke="#777" stroke-width="0.6"/>
<text transform="translate(225.40,473.90) scale(1.55,1)" font-size="3.8" text-anchor="middle" font-family='"Liberation Sans", sans-serif' class="t" letter-spacing="0.3">800</text>
<path d="M225.40,467.30 v2" stroke="#777" stroke-width="0.6"/>
<text transform="translate(254.30,473.90) scale(1.55,1)" font-size="3.8" text-anchor="middle" font-family='"Liberation Sans", sans-serif' class="t" letter-spacing="0.3">1000</text>
<path d="M254.30,467.30 v2" stroke="#777" stroke-width="0.6"/>
<text transform="translate(110.20,386.50) scale(1.0,1)" font-size="17.4" font-family='"Liberation Sans", sans-serif' font-weight="bold" class="L">G</text>
<text x="188.20" y="385.00" font-size="12.2" text-anchor="middle" font-family='"Liberation Serif", serif' font-weight="normal" >Empty</text>
<text x="136.80" y="407.00" font-size="12.0" text-anchor="end" font-family='"Liberation Serif", serif' font-weight="normal" >59%</text>
<text x="150.80" y="443.70" font-size="12.0" text-anchor="start" font-family='"Liberation Serif", serif' font-weight="normal" >41%</text>
<text x="177.00" y="449.90" font-size="12.0" text-anchor="start" font-family='"Liberation Serif", serif' font-weight="normal" >23%</text>
<text x="227.00" y="405.80" font-size="12.0" text-anchor="start" font-family='"Liberation Serif", serif' font-weight="normal" >0.38</text>
<path d="M330.80,467.20 L330.80,467.00 L331.30,466.68 L331.80,466.21 L332.30,465.60 L332.80,464.87 L333.30,464.14 L333.80,463.41 L334.30,462.68 L334.80,461.95 L335.30,461.23 L335.80,460.50 L336.30,459.77 L336.80,459.04 L337.30,458.31 L337.80,457.58 L338.30,456.85 L338.80,456.13 L339.30,455.40 L339.80,454.67 L340.30,453.94 L340.80,453.25 L341.30,452.76 L341.80,452.46 L342.30,452.35 L342.80,452.45 L343.30,452.69 L343.80,452.94 L344.30,453.19 L344.80,453.44 L345.30,453.69 L345.80,453.94 L346.30,454.18 L346.80,454.43 L347.30,454.68 L347.80,454.93 L348.30,455.18 L348.80,455.43 L349.30,455.67 L349.80,455.92 L350.30,456.17 L350.80,456.42 L351.30,456.67 L351.80,456.92 L352.30,457.16 L352.80,457.41 L353.30,457.66 L353.80,457.91 L354.30,458.16 L354.80,458.40 L355.30,458.65 L355.80,458.91 L356.30,459.18 L356.80,459.46 L357.30,459.75 L357.80,460.04 L358.30,460.33 L358.80,460.63 L359.30,460.92 L359.80,461.21 L360.30,461.51 L360.80,461.80 L361.30,462.09 L361.80,462.39 L362.30,462.68 L362.80,462.97 L363.30,463.27 L363.80,463.56 L364.30,463.85 L364.80,464.15 L365.30,464.44 L365.80,464.73 L366.30,465.03 L366.80,465.32 L367.30,465.62 L367.80,465.91 L368.30,466.20 L368.80,466.50 L369.30,466.75 L369.80,466.95 L369.80,467.20 Z" fill="url(#hatch)"/>
<path d="M325.30,467.20 L325.30,467.00 L325.80,466.91 L326.30,466.78 L326.80,466.58 L327.30,466.28 L327.80,465.82 L328.30,465.13 L328.80,464.12 L329.30,462.66 L329.80,460.61 L330.30,457.84 L330.80,454.21 L331.30,449.64 L331.80,444.10 L332.30,437.69 L332.80,430.59 L333.30,423.15 L333.80,415.80 L334.30,409.07 L334.80,403.48 L335.30,399.53 L335.80,397.58 L336.30,397.80 L336.80,400.17 L337.30,404.48 L337.80,410.34 L338.30,417.24 L338.80,424.64 L339.30,432.05 L339.80,439.03 L340.30,445.28 L340.80,450.63 L341.30,455.01 L341.80,458.46 L342.30,461.07 L342.80,462.99 L343.30,464.35 L343.80,465.29 L344.30,465.93 L344.80,466.35 L345.30,466.63 L345.80,466.81 L346.30,466.93 L346.30,467.20 Z" fill="#c8c8c8"/>
<path d="M330.80,467.20 L330.80,467.00 L331.30,466.68 L331.80,466.21 L332.30,465.60 L332.80,464.87 L333.30,464.14 L333.80,463.41 L334.30,462.68 L334.80,461.95 L335.30,461.23 L335.80,460.50 L336.30,459.77 L336.80,459.04 L337.30,458.31 L337.80,457.58 L338.30,456.85 L338.80,456.13 L339.30,455.40 L339.80,454.67 L340.30,453.94 L340.80,453.25 L341.30,455.01 L341.80,458.46 L342.30,461.07 L342.80,462.99 L343.30,464.35 L343.80,465.29 L344.30,465.93 L344.80,466.35 L345.30,466.63 L345.80,466.81 L346.30,466.93 L346.30,467.20 Z" fill="#a8a8a8"/>
<path d="M346.30,467.20 L346.30,466.97 L346.80,466.91 L347.30,466.84 L347.80,466.75 L348.30,466.63 L348.80,466.49 L349.30,466.32 L349.80,466.12 L350.30,465.88 L350.80,465.59 L351.30,465.25 L351.80,464.86 L352.30,464.42 L352.80,463.91 L353.30,463.35 L353.80,462.73 L354.30,462.05 L354.80,461.32 L355.30,460.55 L355.80,459.74 L356.30,458.91 L356.80,458.07 L357.30,457.23 L357.80,456.42 L358.30,455.64 L358.80,454.93 L359.30,454.29 L359.80,453.74 L360.30,453.29 L360.80,452.97 L361.30,452.77 L361.80,452.70 L362.30,452.77 L362.80,452.97 L363.30,453.29 L363.80,453.74 L364.30,454.29 L364.80,454.93 L365.30,455.64 L365.80,456.42 L366.30,457.23 L366.80,458.07 L367.30,458.91 L367.80,459.74 L368.30,460.55 L368.80,461.32 L369.30,462.05 L369.80,462.73 L370.30,463.35 L370.80,463.91 L371.30,464.42 L371.80,464.86 L372.30,465.25 L372.80,465.59 L373.30,465.88 L373.80,466.12 L374.30,466.32 L374.80,466.49 L375.30,466.63 L375.80,466.75 L376.30,466.84 L376.80,466.91 L377.30,466.97 L377.30,467.20 Z" fill="#6c6c6c"/>
<path d="M346.30,467.20 L346.30,466.97 L346.80,466.91 L347.30,466.84 L347.80,466.75 L348.30,466.63 L348.80,466.49 L349.30,466.32 L349.80,466.12 L350.30,465.88 L350.80,465.59 L351.30,465.25 L351.80,464.86 L352.30,464.42 L352.80,463.91 L353.30,463.35 L353.80,462.73 L354.30,462.05 L354.80,461.32 L355.30,460.55 L355.80,459.74 L356.30,459.18 L356.80,459.46 L357.30,459.75 L357.80,460.04 L358.30,460.33 L358.80,460.63 L359.30,460.92 L359.80,461.21 L360.30,461.51 L360.80,461.80 L361.30,462.09 L361.80,462.39 L362.30,462.68 L362.80,462.97 L363.30,463.27 L363.80,463.56 L364.30,463.85 L364.80,464.15 L365.30,464.44 L365.80,464.73 L366.30,465.03 L366.80,465.32 L367.30,465.62 L367.80,465.91 L368.30,466.20 L368.80,466.50 L369.30,466.75 L369.80,466.95 L369.80,467.20 Z" fill="#464646"/>
<path d="M305.30,466.71 L305.80,466.67 L306.30,466.64 L306.80,466.60 L307.30,466.60 L307.80,466.66 L308.30,466.72 L308.80,466.73 L309.30,466.71 L309.80,466.69 L310.30,466.70 L310.80,466.72 L311.30,466.73 L311.80,466.70 L312.30,466.67 L312.80,466.64 L313.30,466.65 L313.80,466.65 L314.30,466.66 L314.80,466.67 L315.30,466.67 L315.80,466.66 L316.30,466.62 L316.80,466.59 L317.30,466.60 L317.80,466.63 L318.30,466.65 L318.80,466.68 L319.30,466.71 L319.80,466.73 L320.30,466.73 L320.80,466.72 L321.30,466.71 L321.80,466.68 L322.30,466.65 L322.80,466.63 L323.30,466.61 L323.80,466.59 L324.30,466.60 L324.80,466.60 L325.30,466.59 L325.80,466.47 L326.30,466.31 L326.80,466.11 L327.30,465.88 L327.80,465.52 L328.30,464.93 L328.80,463.89 L329.30,462.40 L329.80,460.38 L330.30,457.67 L330.80,454.10 L331.30,449.52 L331.80,443.97 L332.30,437.53 L332.80,430.46 L333.30,423.04 L333.80,415.71 L334.30,408.94 L334.80,403.32 L335.30,399.36 L335.80,397.42 L336.30,397.65 L336.80,400.03 L337.30,404.33 L337.80,408.79 L338.30,413.93 L338.80,419.51 L339.30,425.08 L339.80,430.24 L340.30,434.77 L340.80,438.58 L341.30,441.83 L341.80,444.48 L342.30,446.62 L342.80,448.38 L343.30,449.98 L343.80,451.04 L344.30,451.72 L344.80,452.22 L345.30,452.84 L345.80,453.43 L346.30,453.95 L346.80,453.80 L347.30,453.64 L347.80,453.57 L348.30,453.85 L348.80,454.12 L349.30,454.45 L349.80,454.87 L350.30,455.27 L350.80,455.69 L351.30,456.12 L351.80,456.53 L352.30,456.41 L352.80,456.17 L353.30,455.93 L353.80,456.47 L354.30,456.99 L354.80,457.43 L355.30,457.65 L355.80,457.86 L356.30,457.97 L356.80,457.65 L357.30,457.06 L357.80,456.24 L358.30,455.47 L358.80,454.75 L359.30,454.08 L359.80,453.49 L360.30,453.01 L360.80,452.74 L361.30,452.60 L361.80,452.59 L362.30,452.66 L362.80,452.87 L363.30,453.18 L363.80,453.60 L364.30,454.11 L364.80,454.76 L365.30,455.51 L365.80,456.32 L366.30,457.10 L366.80,457.88 L367.30,458.67 L367.80,459.51 L368.30,460.34 L368.80,461.12 L369.30,461.81 L369.80,462.46 L370.30,463.06 L370.80,463.61 L371.30,464.11 L371.80,464.59 L372.30,465.02 L372.80,465.60 L373.30,465.66 L373.80,465.51 L374.30,465.36 L374.80,465.50 L375.30,465.64 L375.80,465.73 L376.30,465.61 L376.80,465.49 L377.30,465.55 L377.80,465.89 L378.30,466.24 L378.80,466.32 L379.30,466.21 L379.80,466.11 L380.30,465.96 L380.80,465.80 L381.30,465.64 L381.80,466.00 L382.30,466.36 L382.80,466.63 L383.30,466.56 L383.80,466.50 L384.30,466.47 L384.80,466.49 L385.30,466.51 L385.80,466.52 L386.30,466.52 L386.80,466.52 L387.30,466.36 L387.80,466.15 L388.30,465.94 L388.80,466.25 L389.30,466.55 L389.80,466.75 L390.30,466.54 L390.80,466.33 L391.30,466.29 L391.80,466.50 L392.30,466.71 L392.80,466.68 L393.30,466.47 L393.80,466.27 L394.30,466.44 L394.80,466.72 L395.30,466.99 L395.80,467.00 L396.30,467.00 L396.80,467.00 L397.30,466.70 L397.80,466.39 L398.30,466.35 L398.80,466.70 L399.30,467.00 L399.80,467.00 L400.30,466.83 L400.80,466.60 L401.30,466.68 L401.80,466.84 L402.30,467.00 L402.80,466.86 L403.30,466.73 L403.80,466.64 L404.30,466.73 L404.80,466.83 L405.30,466.84 L405.80,466.73 L406.30,466.62 L406.80,466.56 L407.30,466.55 L407.80,466.53 L408.30,466.50 L408.80,466.48 L409.30,466.45 L409.80,466.67 L410.30,466.90 L410.80,467.00 L411.30,466.78 L411.80,466.52 L412.30,466.46 L412.80,466.67 L413.30,466.88 L413.80,466.89 L414.30,466.76 L414.80,466.63 L415.30,466.54 L415.80,466.47 L416.30,466.39 L416.80,466.40 L417.30,466.42 L417.80,466.45 L418.30,466.53 L418.80,466.62 L419.30,466.67 L419.80,466.69 L420.30,466.70 L420.80,466.78 L421.30,466.90 L421.80,467.00 L422.30,466.84 L422.80,466.58 L423.30,466.32 L423.80,466.42 L424.30,466.52 L424.80,466.59 L425.30,466.53 L425.80,466.47 L426.30,466.40 L426.80,466.33 L427.30,466.26 L427.80,466.29 L428.30,466.39 L428.80,466.48 L429.30,466.61 L429.80,466.76 L430.30,466.90 L430.80,466.84 L431.30,466.77 L431.80,466.74 L432.30,466.85 L432.80,466.96 L433.30,467.00 L433.80,466.98 L434.30,466.94 L434.80,466.80 L435.30,466.59 L435.80,466.38 L436.30,466.40 L436.80,466.46 L437.30,466.53 L437.80,466.71 L438.30,466.89 L438.80,467.00 L439.30,466.88 L439.80,466.75 L440.30,466.69 L440.80,466.73 L441.30,466.78 L441.80,466.70 L442.30,466.56 L442.80,466.41 L443.30,466.38 L443.80,466.37 L444.30,466.37 L444.80,466.54 L445.30,466.71 L445.80,466.87 L446.30,466.96 L446.80,467.00 L447.30,467.00 L447.80,467.00 L448.30,467.00 L448.80,466.93 L449.30,466.80 L449.80,466.66 L450.30,466.69 L450.80,466.76 L451.30,466.84" fill="none" stroke="#4a4a4a" stroke-width="0.6" stroke-linejoin="round"/>
<rect x="304.3" y="389.7" width="148.70" height="78.00" fill="none" stroke="#444" stroke-width="1.05"/>
<text transform="translate(297.30,406.10) scale(1.55,1)" font-size="3.8" text-anchor="end" font-family='"Liberation Sans", sans-serif' class="t" letter-spacing="0.3">150</text>
<path d="M301.30,404.80 H304.30" stroke="#777" stroke-width="0.6"/>
<text transform="translate(297.30,426.90) scale(1.55,1)" font-size="3.8" text-anchor="end" font-family='"Liberation Sans", sans-serif' class="t" letter-spacing="0.3">100</text>
<path d="M301.30,425.60 H304.30" stroke="#777" stroke-width="0.6"/>
<text transform="translate(297.30,447.70) scale(1.55,1)" font-size="3.8" text-anchor="end" font-family='"Liberation Sans", sans-serif' class="t" letter-spacing="0.3">50</text>
<path d="M301.30,446.40 H304.30" stroke="#777" stroke-width="0.6"/>
<text transform="translate(297.30,469.00) scale(1.55,1)" font-size="3.8" text-anchor="end" font-family='"Liberation Sans", sans-serif' class="t" letter-spacing="0.3">0</text>
<path d="M301.30,467.70 H304.30" stroke="#777" stroke-width="0.6"/>
<text transform="translate(304.20,474.30) scale(1.55,1)" font-size="3.8" text-anchor="middle" font-family='"Liberation Sans", sans-serif' class="t" letter-spacing="0.3">0</text>
<path d="M304.20,467.70 v2" stroke="#777" stroke-width="0.6"/>
<text transform="translate(333.16,474.30) scale(1.55,1)" font-size="3.8" text-anchor="middle" font-family='"Liberation Sans", sans-serif' class="t" letter-spacing="0.3">200</text>
<path d="M333.16,467.70 v2" stroke="#777" stroke-width="0.6"/>
<text transform="translate(362.12,474.30) scale(1.55,1)" font-size="3.8" text-anchor="middle" font-family='"Liberation Sans", sans-serif' class="t" letter-spacing="0.3">400</text>
<path d="M362.12,467.70 v2" stroke="#777" stroke-width="0.6"/>
<text transform="translate(391.08,474.30) scale(1.55,1)" font-size="3.8" text-anchor="middle" font-family='"Liberation Sans", sans-serif' class="t" letter-spacing="0.3">600</text>
<path d="M391.08,467.70 v2" stroke="#777" stroke-width="0.6"/>
<text transform="translate(420.04,474.30) scale(1.55,1)" font-size="3.8" text-anchor="middle" font-family='"Liberation Sans", sans-serif' class="t" letter-spacing="0.3">800</text>
<path d="M420.04,467.70 v2" stroke="#777" stroke-width="0.6"/>
<text transform="translate(449.00,474.30) scale(1.55,1)" font-size="3.8" text-anchor="middle" font-family='"Liberation Sans", sans-serif' class="t" letter-spacing="0.3">1000</text>
<path d="M449.00,467.70 v2" stroke="#777" stroke-width="0.6"/>
<text transform="translate(303.70,386.10) scale(1.0,1)" font-size="17.4" font-family='"Liberation Sans", sans-serif' font-weight="bold" class="L">H</text>
<text x="378.50" y="385.00" font-size="12.2" text-anchor="middle" font-family='"Liberation Serif", serif' font-weight="normal" >Chim3</text>
<text x="331.40" y="404.40" font-size="12.0" text-anchor="end" font-family='"Liberation Serif", serif' font-weight="normal" >55%</text>
<text x="341.70" y="427.30" font-size="12.0" text-anchor="start" font-family='"Liberation Serif", serif' font-weight="normal" >38%</text>
<text x="366.40" y="450.80" font-size="12.0" text-anchor="start" font-family='"Liberation Serif", serif' font-weight="normal" >21%</text>
<text x="421.70" y="405.80" font-size="12.0" text-anchor="start" font-family='"Liberation Serif", serif' font-weight="normal" >0.39</text>
<path d="M88.2,13.7 H447.7" stroke="#000" stroke-width="1.5"/>
<text x="266.50" y="8.70" font-size="12.2" text-anchor="middle" font-family='"Liberation Serif", serif' font-weight="normal" >HIV-1 p24Gag<tspan font-size="7.5" dy="-4">+</tspan><tspan dy="4"> cells</tspan></text>
<path d="M86.8,257.7 H446.8" stroke="#000" stroke-width="1.5"/>
<text x="264.50" y="253.70" font-size="12.2" text-anchor="middle" font-family='"Liberation Serif", serif' font-weight="normal" ><tspan font-weight="bold">Δ</tspan><tspan font-style="italic">vif</tspan>-<tspan font-weight="bold">Δ</tspan><tspan font-style="italic">vpr</tspan>-HIV-1 p24Gag<tspan font-size="7.5" dy="-4">+</tspan><tspan dy="4"> cells</tspan></text>
<text x="34.60" y="26.20" font-size="12.2" text-anchor="middle" font-family='"Liberation Serif", serif' font-weight="normal" >Producer cells</text>
<text x="36.20" y="40.20" font-size="12.2" text-anchor="middle" font-family='"Liberation Serif", serif' font-weight="normal" >(HEK-293T)</text>
<path d="M79.2,27.5 H86.6 L84.8,22.8 L98.2,29.2 L84.8,35.6 L86.6,30.9 H79.2 Z" fill="#000"/>
<path d="M71.7,41.3 L75.5,49.6 H67.9 Z" fill="#000"/>
<path d="M71.7,48 V209.9" stroke="#000" stroke-width="1.8"/>
<path d="M71.7,293.8 V472.7" stroke="#000" stroke-width="1.8"/>
<text transform="translate(76.2,251.8) rotate(-90)" font-size="12.2" text-anchor="middle" font-family='"Liberation Serif", serif'>Cell Number</text>
<text x="486.50" y="28.20" font-size="12.2" text-anchor="middle" font-family='"Liberation Serif", serif' font-weight="normal" >Target cells</text>
<text x="486.50" y="42.20" font-size="12.2" text-anchor="middle" font-family='"Liberation Serif", serif' font-weight="normal" >(CEM A3.01)</text>
<path d="M477.6,49 H481.5 V55.5 H486.4 L479.5,67 L472.7,55.5 H477.6 Z" fill="#000"/>
<text x="478.50" y="79.00" font-size="12.2" text-anchor="middle" font-family='"Liberation Serif", serif' font-weight="normal" >Empty</text>
<text x="478.50" y="178.70" font-size="12.2" text-anchor="middle" font-family='"Liberation Serif", serif' font-weight="normal" >Chim3</text>
<text x="478.50" y="324.80" font-size="12.2" text-anchor="middle" font-family='"Liberation Serif", serif' font-weight="normal" >Empty</text>
<text x="478.50" y="431.80" font-size="12.2" text-anchor="middle" font-family='"Liberation Serif", serif' font-weight="normal" >Chim3</text>
<path d="M106.2,488.2 H213.8" stroke="#000" stroke-width="2.1"/>
<text x="273.80" y="492.50" font-size="12.2" text-anchor="middle" font-family='"Liberation Serif", serif' font-weight="normal" >DNA Content (P.I.)</text>
<path d="M332.3,488.2 H443" stroke="#000" stroke-width="2.1"/>
<path d="M450.0,488.2 L441.6,483.9 L442.6,488.2 L441.6,492.5 Z" fill="#000"/>
</g>
</svg>
</body></html>
